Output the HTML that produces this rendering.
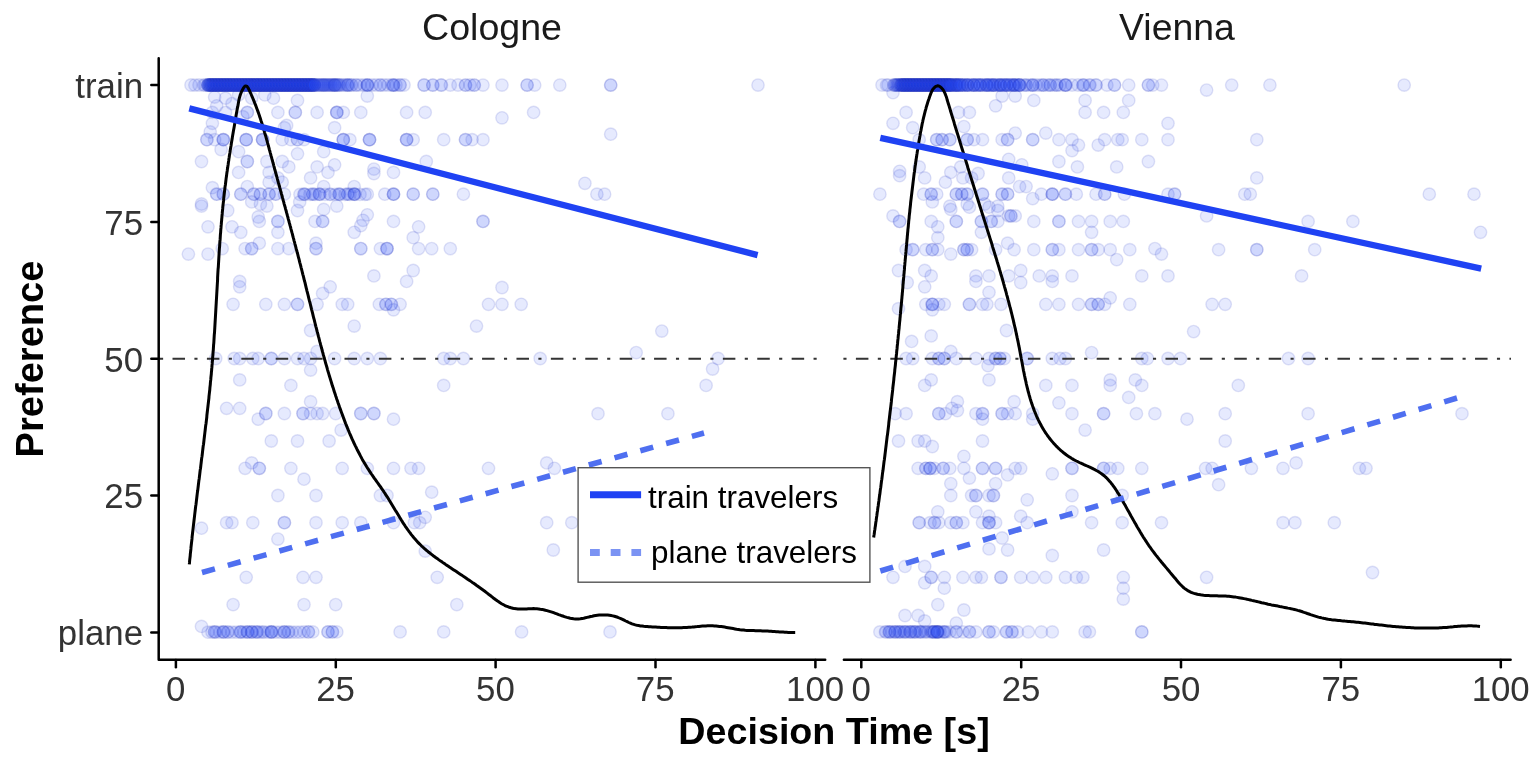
<!DOCTYPE html>
<html><head><meta charset="utf-8"><title>Preference vs Decision Time</title>
<style>
html,body{margin:0;padding:0;background:#fff;}
body{width:1535px;height:766px;overflow:hidden;}
svg{display:block;}
text{font-family:"Liberation Sans",Arial,Helvetica,sans-serif;}
</style></head><body>
<svg width="1535" height="766" viewBox="0 0 1535 766">
<rect width="1535" height="766" fill="#fff"/>

<text x="492" y="40.4" font-size="37.6" fill="#1a1a1a" text-anchor="middle">Cologne</text>
<text x="1177" y="40.4" font-size="37.4" fill="#1a1a1a" text-anchor="middle">Vienna</text>
<g fill="rgba(35,72,245,0.115)" stroke="rgba(45,60,190,0.14)" stroke-width="1.4">
<circle cx="194.9" cy="85.1" r="6.2"/>
<circle cx="203.6" cy="85.1" r="6.2"/>
<circle cx="323.7" cy="85.1" r="6.2"/>
<circle cx="334.6" cy="85.1" r="6.2"/>
<circle cx="334.6" cy="85.1" r="6.2"/>
<circle cx="347.7" cy="85.1" r="6.2"/>
<circle cx="347.7" cy="85.1" r="6.2"/>
<circle cx="356.4" cy="85.1" r="6.2"/>
<circle cx="367.3" cy="85.1" r="6.2"/>
<circle cx="367.3" cy="85.1" r="6.2"/>
<circle cx="367.3" cy="85.1" r="6.2"/>
<circle cx="380.4" cy="85.1" r="6.2"/>
<circle cx="393.5" cy="85.1" r="6.2"/>
<circle cx="393.5" cy="85.1" r="6.2"/>
<circle cx="393.5" cy="85.1" r="6.2"/>
<circle cx="400.1" cy="85.1" r="6.2"/>
<circle cx="424.1" cy="85.1" r="6.2"/>
<circle cx="432.8" cy="85.1" r="6.2"/>
<circle cx="432.8" cy="85.1" r="6.2"/>
<circle cx="441.5" cy="85.1" r="6.2"/>
<circle cx="450.3" cy="85.1" r="6.2"/>
<circle cx="465.5" cy="85.1" r="6.2"/>
<circle cx="465.5" cy="85.1" r="6.2"/>
<circle cx="474.3" cy="85.1" r="6.2"/>
<circle cx="474.3" cy="85.1" r="6.2"/>
<circle cx="483.0" cy="85.1" r="6.2"/>
<circle cx="214.6" cy="97.1" r="6.2"/>
<circle cx="225.5" cy="98.2" r="6.2"/>
<circle cx="238.6" cy="94.9" r="6.2"/>
<circle cx="251.7" cy="98.2" r="6.2"/>
<circle cx="264.8" cy="94.9" r="6.2"/>
<circle cx="273.5" cy="98.2" r="6.2"/>
<circle cx="297.5" cy="100.4" r="6.2"/>
<circle cx="367.3" cy="96.0" r="6.2"/>
<circle cx="232.0" cy="103.6" r="6.2"/>
<circle cx="216.7" cy="105.8" r="6.2"/>
<circle cx="212.4" cy="112.4" r="6.2"/>
<circle cx="225.5" cy="112.4" r="6.2"/>
<circle cx="247.3" cy="112.4" r="6.2"/>
<circle cx="247.3" cy="112.4" r="6.2"/>
<circle cx="277.9" cy="112.4" r="6.2"/>
<circle cx="295.3" cy="112.4" r="6.2"/>
<circle cx="295.3" cy="112.4" r="6.2"/>
<circle cx="317.1" cy="112.4" r="6.2"/>
<circle cx="336.8" cy="112.4" r="6.2"/>
<circle cx="336.8" cy="112.4" r="6.2"/>
<circle cx="336.8" cy="112.4" r="6.2"/>
<circle cx="343.3" cy="112.4" r="6.2"/>
<circle cx="360.8" cy="112.4" r="6.2"/>
<circle cx="406.6" cy="112.4" r="6.2"/>
<circle cx="425.2" cy="112.4" r="6.2"/>
<circle cx="212.4" cy="123.3" r="6.2"/>
<circle cx="242.9" cy="116.7" r="6.2"/>
<circle cx="286.6" cy="125.5" r="6.2"/>
<circle cx="284.4" cy="127.7" r="6.2"/>
<circle cx="334.6" cy="127.7" r="6.2"/>
<circle cx="210.2" cy="132.0" r="6.2"/>
<circle cx="206.9" cy="139.7" r="6.2"/>
<circle cx="206.9" cy="139.7" r="6.2"/>
<circle cx="223.3" cy="139.7" r="6.2"/>
<circle cx="223.3" cy="139.7" r="6.2"/>
<circle cx="223.3" cy="139.7" r="6.2"/>
<circle cx="214.6" cy="139.7" r="6.2"/>
<circle cx="246.2" cy="139.7" r="6.2"/>
<circle cx="246.2" cy="139.7" r="6.2"/>
<circle cx="246.2" cy="139.7" r="6.2"/>
<circle cx="262.6" cy="139.7" r="6.2"/>
<circle cx="262.6" cy="139.7" r="6.2"/>
<circle cx="262.6" cy="139.7" r="6.2"/>
<circle cx="282.2" cy="139.7" r="6.2"/>
<circle cx="290.9" cy="139.7" r="6.2"/>
<circle cx="297.5" cy="139.7" r="6.2"/>
<circle cx="297.5" cy="139.7" r="6.2"/>
<circle cx="304.0" cy="139.7" r="6.2"/>
<circle cx="343.3" cy="139.7" r="6.2"/>
<circle cx="343.3" cy="139.7" r="6.2"/>
<circle cx="343.3" cy="139.7" r="6.2"/>
<circle cx="349.9" cy="139.7" r="6.2"/>
<circle cx="369.5" cy="139.7" r="6.2"/>
<circle cx="369.5" cy="139.7" r="6.2"/>
<circle cx="369.5" cy="139.7" r="6.2"/>
<circle cx="406.6" cy="139.7" r="6.2"/>
<circle cx="406.6" cy="139.7" r="6.2"/>
<circle cx="406.6" cy="139.7" r="6.2"/>
<circle cx="413.2" cy="139.7" r="6.2"/>
<circle cx="443.7" cy="139.7" r="6.2"/>
<circle cx="465.5" cy="139.7" r="6.2"/>
<circle cx="465.5" cy="139.7" r="6.2"/>
<circle cx="472.1" cy="139.7" r="6.2"/>
<circle cx="483.0" cy="139.7" r="6.2"/>
<circle cx="238.6" cy="151.7" r="6.2"/>
<circle cx="297.5" cy="153.8" r="6.2"/>
<circle cx="323.7" cy="151.7" r="6.2"/>
<circle cx="221.1" cy="149.5" r="6.2"/>
<circle cx="201.5" cy="161.5" r="6.2"/>
<circle cx="247.3" cy="161.5" r="6.2"/>
<circle cx="247.3" cy="161.5" r="6.2"/>
<circle cx="266.9" cy="161.5" r="6.2"/>
<circle cx="282.2" cy="161.5" r="6.2"/>
<circle cx="288.8" cy="166.9" r="6.2"/>
<circle cx="317.1" cy="166.9" r="6.2"/>
<circle cx="334.6" cy="164.8" r="6.2"/>
<circle cx="373.9" cy="169.1" r="6.2"/>
<circle cx="426.3" cy="161.5" r="6.2"/>
<circle cx="238.6" cy="172.4" r="6.2"/>
<circle cx="269.1" cy="172.4" r="6.2"/>
<circle cx="310.6" cy="177.9" r="6.2"/>
<circle cx="328.0" cy="172.4" r="6.2"/>
<circle cx="373.9" cy="173.5" r="6.2"/>
<circle cx="393.5" cy="172.4" r="6.2"/>
<circle cx="277.9" cy="177.9" r="6.2"/>
<circle cx="269.1" cy="182.2" r="6.2"/>
<circle cx="282.2" cy="182.2" r="6.2"/>
<circle cx="212.4" cy="187.7" r="6.2"/>
<circle cx="247.3" cy="186.6" r="6.2"/>
<circle cx="323.7" cy="186.6" r="6.2"/>
<circle cx="354.2" cy="186.6" r="6.2"/>
<circle cx="216.7" cy="194.2" r="6.2"/>
<circle cx="216.7" cy="194.2" r="6.2"/>
<circle cx="223.3" cy="194.2" r="6.2"/>
<circle cx="223.3" cy="194.2" r="6.2"/>
<circle cx="240.8" cy="194.2" r="6.2"/>
<circle cx="240.8" cy="194.2" r="6.2"/>
<circle cx="253.8" cy="194.2" r="6.2"/>
<circle cx="253.8" cy="194.2" r="6.2"/>
<circle cx="260.4" cy="194.2" r="6.2"/>
<circle cx="260.4" cy="194.2" r="6.2"/>
<circle cx="269.1" cy="194.2" r="6.2"/>
<circle cx="269.1" cy="194.2" r="6.2"/>
<circle cx="275.7" cy="194.2" r="6.2"/>
<circle cx="275.7" cy="194.2" r="6.2"/>
<circle cx="284.4" cy="194.2" r="6.2"/>
<circle cx="304.0" cy="194.2" r="6.2"/>
<circle cx="304.0" cy="194.2" r="6.2"/>
<circle cx="312.8" cy="194.2" r="6.2"/>
<circle cx="312.8" cy="194.2" r="6.2"/>
<circle cx="319.3" cy="194.2" r="6.2"/>
<circle cx="319.3" cy="194.2" r="6.2"/>
<circle cx="330.2" cy="194.2" r="6.2"/>
<circle cx="339.0" cy="194.2" r="6.2"/>
<circle cx="339.0" cy="194.2" r="6.2"/>
<circle cx="347.7" cy="194.2" r="6.2"/>
<circle cx="347.7" cy="194.2" r="6.2"/>
<circle cx="354.2" cy="194.2" r="6.2"/>
<circle cx="354.2" cy="194.2" r="6.2"/>
<circle cx="354.2" cy="194.2" r="6.2"/>
<circle cx="367.3" cy="194.2" r="6.2"/>
<circle cx="384.8" cy="194.2" r="6.2"/>
<circle cx="393.5" cy="194.2" r="6.2"/>
<circle cx="393.5" cy="194.2" r="6.2"/>
<circle cx="393.5" cy="194.2" r="6.2"/>
<circle cx="413.2" cy="194.2" r="6.2"/>
<circle cx="413.2" cy="194.2" r="6.2"/>
<circle cx="432.8" cy="194.2" r="6.2"/>
<circle cx="432.8" cy="194.2" r="6.2"/>
<circle cx="463.4" cy="194.2" r="6.2"/>
<circle cx="201.5" cy="204.0" r="6.2"/>
<circle cx="251.7" cy="201.9" r="6.2"/>
<circle cx="260.4" cy="204.0" r="6.2"/>
<circle cx="299.7" cy="201.9" r="6.2"/>
<circle cx="208.0" cy="85.0" r="6.2"/>
<circle cx="208.0" cy="85.0" r="6.2"/>
<circle cx="208.0" cy="85.0" r="6.2"/>
<circle cx="208.0" cy="85.0" r="6.2"/>
<circle cx="209.5" cy="85.0" r="6.2"/>
<circle cx="209.5" cy="85.0" r="6.2"/>
<circle cx="209.5" cy="85.0" r="6.2"/>
<circle cx="209.5" cy="85.0" r="6.2"/>
<circle cx="211.0" cy="85.0" r="6.2"/>
<circle cx="211.0" cy="85.0" r="6.2"/>
<circle cx="211.0" cy="85.0" r="6.2"/>
<circle cx="211.0" cy="85.0" r="6.2"/>
<circle cx="212.5" cy="85.0" r="6.2"/>
<circle cx="212.5" cy="85.0" r="6.2"/>
<circle cx="212.5" cy="85.0" r="6.2"/>
<circle cx="212.5" cy="85.0" r="6.2"/>
<circle cx="214.0" cy="85.0" r="6.2"/>
<circle cx="214.0" cy="85.0" r="6.2"/>
<circle cx="214.0" cy="85.0" r="6.2"/>
<circle cx="214.0" cy="85.0" r="6.2"/>
<circle cx="215.5" cy="85.0" r="6.2"/>
<circle cx="215.5" cy="85.0" r="6.2"/>
<circle cx="215.5" cy="85.0" r="6.2"/>
<circle cx="215.5" cy="85.0" r="6.2"/>
<circle cx="217.0" cy="85.0" r="6.2"/>
<circle cx="217.0" cy="85.0" r="6.2"/>
<circle cx="217.0" cy="85.0" r="6.2"/>
<circle cx="217.0" cy="85.0" r="6.2"/>
<circle cx="218.5" cy="85.0" r="6.2"/>
<circle cx="218.5" cy="85.0" r="6.2"/>
<circle cx="218.5" cy="85.0" r="6.2"/>
<circle cx="218.5" cy="85.0" r="6.2"/>
<circle cx="220.0" cy="85.0" r="6.2"/>
<circle cx="220.0" cy="85.0" r="6.2"/>
<circle cx="220.0" cy="85.0" r="6.2"/>
<circle cx="220.0" cy="85.0" r="6.2"/>
<circle cx="221.5" cy="85.0" r="6.2"/>
<circle cx="221.5" cy="85.0" r="6.2"/>
<circle cx="221.5" cy="85.0" r="6.2"/>
<circle cx="221.5" cy="85.0" r="6.2"/>
<circle cx="223.0" cy="85.0" r="6.2"/>
<circle cx="223.0" cy="85.0" r="6.2"/>
<circle cx="223.0" cy="85.0" r="6.2"/>
<circle cx="223.0" cy="85.0" r="6.2"/>
<circle cx="224.5" cy="85.0" r="6.2"/>
<circle cx="224.5" cy="85.0" r="6.2"/>
<circle cx="224.5" cy="85.0" r="6.2"/>
<circle cx="224.5" cy="85.0" r="6.2"/>
<circle cx="226.0" cy="85.0" r="6.2"/>
<circle cx="226.0" cy="85.0" r="6.2"/>
<circle cx="226.0" cy="85.0" r="6.2"/>
<circle cx="226.0" cy="85.0" r="6.2"/>
<circle cx="227.5" cy="85.0" r="6.2"/>
<circle cx="227.5" cy="85.0" r="6.2"/>
<circle cx="227.5" cy="85.0" r="6.2"/>
<circle cx="227.5" cy="85.0" r="6.2"/>
<circle cx="229.0" cy="85.0" r="6.2"/>
<circle cx="229.0" cy="85.0" r="6.2"/>
<circle cx="229.0" cy="85.0" r="6.2"/>
<circle cx="229.0" cy="85.0" r="6.2"/>
<circle cx="230.5" cy="85.0" r="6.2"/>
<circle cx="230.5" cy="85.0" r="6.2"/>
<circle cx="230.5" cy="85.0" r="6.2"/>
<circle cx="230.5" cy="85.0" r="6.2"/>
<circle cx="232.0" cy="85.0" r="6.2"/>
<circle cx="232.0" cy="85.0" r="6.2"/>
<circle cx="232.0" cy="85.0" r="6.2"/>
<circle cx="232.0" cy="85.0" r="6.2"/>
<circle cx="233.5" cy="85.0" r="6.2"/>
<circle cx="233.5" cy="85.0" r="6.2"/>
<circle cx="233.5" cy="85.0" r="6.2"/>
<circle cx="233.5" cy="85.0" r="6.2"/>
<circle cx="235.0" cy="85.0" r="6.2"/>
<circle cx="235.0" cy="85.0" r="6.2"/>
<circle cx="235.0" cy="85.0" r="6.2"/>
<circle cx="235.0" cy="85.0" r="6.2"/>
<circle cx="236.5" cy="85.0" r="6.2"/>
<circle cx="236.5" cy="85.0" r="6.2"/>
<circle cx="236.5" cy="85.0" r="6.2"/>
<circle cx="236.5" cy="85.0" r="6.2"/>
<circle cx="238.0" cy="85.0" r="6.2"/>
<circle cx="238.0" cy="85.0" r="6.2"/>
<circle cx="238.0" cy="85.0" r="6.2"/>
<circle cx="238.0" cy="85.0" r="6.2"/>
<circle cx="239.5" cy="85.0" r="6.2"/>
<circle cx="239.5" cy="85.0" r="6.2"/>
<circle cx="239.5" cy="85.0" r="6.2"/>
<circle cx="239.5" cy="85.0" r="6.2"/>
<circle cx="241.0" cy="85.0" r="6.2"/>
<circle cx="241.0" cy="85.0" r="6.2"/>
<circle cx="241.0" cy="85.0" r="6.2"/>
<circle cx="241.0" cy="85.0" r="6.2"/>
<circle cx="242.5" cy="85.0" r="6.2"/>
<circle cx="242.5" cy="85.0" r="6.2"/>
<circle cx="242.5" cy="85.0" r="6.2"/>
<circle cx="242.5" cy="85.0" r="6.2"/>
<circle cx="244.0" cy="85.0" r="6.2"/>
<circle cx="244.0" cy="85.0" r="6.2"/>
<circle cx="244.0" cy="85.0" r="6.2"/>
<circle cx="244.0" cy="85.0" r="6.2"/>
<circle cx="245.5" cy="85.0" r="6.2"/>
<circle cx="245.5" cy="85.0" r="6.2"/>
<circle cx="245.5" cy="85.0" r="6.2"/>
<circle cx="245.5" cy="85.0" r="6.2"/>
<circle cx="247.0" cy="85.0" r="6.2"/>
<circle cx="247.0" cy="85.0" r="6.2"/>
<circle cx="247.0" cy="85.0" r="6.2"/>
<circle cx="247.0" cy="85.0" r="6.2"/>
<circle cx="248.5" cy="85.0" r="6.2"/>
<circle cx="248.5" cy="85.0" r="6.2"/>
<circle cx="248.5" cy="85.0" r="6.2"/>
<circle cx="248.5" cy="85.0" r="6.2"/>
<circle cx="250.0" cy="85.0" r="6.2"/>
<circle cx="250.0" cy="85.0" r="6.2"/>
<circle cx="250.0" cy="85.0" r="6.2"/>
<circle cx="250.0" cy="85.0" r="6.2"/>
<circle cx="251.5" cy="85.0" r="6.2"/>
<circle cx="251.5" cy="85.0" r="6.2"/>
<circle cx="251.5" cy="85.0" r="6.2"/>
<circle cx="251.5" cy="85.0" r="6.2"/>
<circle cx="253.0" cy="85.0" r="6.2"/>
<circle cx="253.0" cy="85.0" r="6.2"/>
<circle cx="253.0" cy="85.0" r="6.2"/>
<circle cx="253.0" cy="85.0" r="6.2"/>
<circle cx="254.5" cy="85.0" r="6.2"/>
<circle cx="254.5" cy="85.0" r="6.2"/>
<circle cx="254.5" cy="85.0" r="6.2"/>
<circle cx="254.5" cy="85.0" r="6.2"/>
<circle cx="256.0" cy="85.0" r="6.2"/>
<circle cx="256.0" cy="85.0" r="6.2"/>
<circle cx="256.0" cy="85.0" r="6.2"/>
<circle cx="256.0" cy="85.0" r="6.2"/>
<circle cx="257.5" cy="85.0" r="6.2"/>
<circle cx="257.5" cy="85.0" r="6.2"/>
<circle cx="257.5" cy="85.0" r="6.2"/>
<circle cx="257.5" cy="85.0" r="6.2"/>
<circle cx="259.0" cy="85.0" r="6.2"/>
<circle cx="259.0" cy="85.0" r="6.2"/>
<circle cx="259.0" cy="85.0" r="6.2"/>
<circle cx="259.0" cy="85.0" r="6.2"/>
<circle cx="260.5" cy="85.0" r="6.2"/>
<circle cx="260.5" cy="85.0" r="6.2"/>
<circle cx="260.5" cy="85.0" r="6.2"/>
<circle cx="260.5" cy="85.0" r="6.2"/>
<circle cx="262.0" cy="85.0" r="6.2"/>
<circle cx="262.0" cy="85.0" r="6.2"/>
<circle cx="262.0" cy="85.0" r="6.2"/>
<circle cx="262.0" cy="85.0" r="6.2"/>
<circle cx="263.5" cy="85.0" r="6.2"/>
<circle cx="263.5" cy="85.0" r="6.2"/>
<circle cx="263.5" cy="85.0" r="6.2"/>
<circle cx="263.5" cy="85.0" r="6.2"/>
<circle cx="265.0" cy="85.0" r="6.2"/>
<circle cx="265.0" cy="85.0" r="6.2"/>
<circle cx="265.0" cy="85.0" r="6.2"/>
<circle cx="265.0" cy="85.0" r="6.2"/>
<circle cx="266.5" cy="85.0" r="6.2"/>
<circle cx="266.5" cy="85.0" r="6.2"/>
<circle cx="266.5" cy="85.0" r="6.2"/>
<circle cx="266.5" cy="85.0" r="6.2"/>
<circle cx="268.0" cy="85.0" r="6.2"/>
<circle cx="268.0" cy="85.0" r="6.2"/>
<circle cx="268.0" cy="85.0" r="6.2"/>
<circle cx="268.0" cy="85.0" r="6.2"/>
<circle cx="269.5" cy="85.0" r="6.2"/>
<circle cx="269.5" cy="85.0" r="6.2"/>
<circle cx="269.5" cy="85.0" r="6.2"/>
<circle cx="269.5" cy="85.0" r="6.2"/>
<circle cx="271.0" cy="85.0" r="6.2"/>
<circle cx="271.0" cy="85.0" r="6.2"/>
<circle cx="271.0" cy="85.0" r="6.2"/>
<circle cx="271.0" cy="85.0" r="6.2"/>
<circle cx="272.5" cy="85.0" r="6.2"/>
<circle cx="272.5" cy="85.0" r="6.2"/>
<circle cx="272.5" cy="85.0" r="6.2"/>
<circle cx="272.5" cy="85.0" r="6.2"/>
<circle cx="274.0" cy="85.0" r="6.2"/>
<circle cx="274.0" cy="85.0" r="6.2"/>
<circle cx="274.0" cy="85.0" r="6.2"/>
<circle cx="274.0" cy="85.0" r="6.2"/>
<circle cx="275.5" cy="85.0" r="6.2"/>
<circle cx="275.5" cy="85.0" r="6.2"/>
<circle cx="275.5" cy="85.0" r="6.2"/>
<circle cx="275.5" cy="85.0" r="6.2"/>
<circle cx="277.0" cy="85.0" r="6.2"/>
<circle cx="277.0" cy="85.0" r="6.2"/>
<circle cx="277.0" cy="85.0" r="6.2"/>
<circle cx="277.0" cy="85.0" r="6.2"/>
<circle cx="278.5" cy="85.0" r="6.2"/>
<circle cx="278.5" cy="85.0" r="6.2"/>
<circle cx="278.5" cy="85.0" r="6.2"/>
<circle cx="278.5" cy="85.0" r="6.2"/>
<circle cx="280.0" cy="85.0" r="6.2"/>
<circle cx="280.0" cy="85.0" r="6.2"/>
<circle cx="280.0" cy="85.0" r="6.2"/>
<circle cx="280.0" cy="85.0" r="6.2"/>
<circle cx="281.5" cy="85.0" r="6.2"/>
<circle cx="281.5" cy="85.0" r="6.2"/>
<circle cx="281.5" cy="85.0" r="6.2"/>
<circle cx="281.5" cy="85.0" r="6.2"/>
<circle cx="283.0" cy="85.0" r="6.2"/>
<circle cx="283.0" cy="85.0" r="6.2"/>
<circle cx="283.0" cy="85.0" r="6.2"/>
<circle cx="283.0" cy="85.0" r="6.2"/>
<circle cx="284.5" cy="85.0" r="6.2"/>
<circle cx="284.5" cy="85.0" r="6.2"/>
<circle cx="284.5" cy="85.0" r="6.2"/>
<circle cx="284.5" cy="85.0" r="6.2"/>
<circle cx="286.0" cy="85.0" r="6.2"/>
<circle cx="286.0" cy="85.0" r="6.2"/>
<circle cx="286.0" cy="85.0" r="6.2"/>
<circle cx="286.0" cy="85.0" r="6.2"/>
<circle cx="287.5" cy="85.0" r="6.2"/>
<circle cx="287.5" cy="85.0" r="6.2"/>
<circle cx="287.5" cy="85.0" r="6.2"/>
<circle cx="287.5" cy="85.0" r="6.2"/>
<circle cx="289.0" cy="85.0" r="6.2"/>
<circle cx="289.0" cy="85.0" r="6.2"/>
<circle cx="289.0" cy="85.0" r="6.2"/>
<circle cx="289.0" cy="85.0" r="6.2"/>
<circle cx="290.5" cy="85.0" r="6.2"/>
<circle cx="290.5" cy="85.0" r="6.2"/>
<circle cx="290.5" cy="85.0" r="6.2"/>
<circle cx="290.5" cy="85.0" r="6.2"/>
<circle cx="292.0" cy="85.0" r="6.2"/>
<circle cx="292.0" cy="85.0" r="6.2"/>
<circle cx="292.0" cy="85.0" r="6.2"/>
<circle cx="292.0" cy="85.0" r="6.2"/>
<circle cx="293.5" cy="85.0" r="6.2"/>
<circle cx="293.5" cy="85.0" r="6.2"/>
<circle cx="293.5" cy="85.0" r="6.2"/>
<circle cx="293.5" cy="85.0" r="6.2"/>
<circle cx="295.0" cy="85.0" r="6.2"/>
<circle cx="295.0" cy="85.0" r="6.2"/>
<circle cx="295.0" cy="85.0" r="6.2"/>
<circle cx="295.0" cy="85.0" r="6.2"/>
<circle cx="296.5" cy="85.0" r="6.2"/>
<circle cx="296.5" cy="85.0" r="6.2"/>
<circle cx="296.5" cy="85.0" r="6.2"/>
<circle cx="296.5" cy="85.0" r="6.2"/>
<circle cx="298.0" cy="85.0" r="6.2"/>
<circle cx="298.0" cy="85.0" r="6.2"/>
<circle cx="298.0" cy="85.0" r="6.2"/>
<circle cx="298.0" cy="85.0" r="6.2"/>
<circle cx="299.5" cy="85.0" r="6.2"/>
<circle cx="299.5" cy="85.0" r="6.2"/>
<circle cx="299.5" cy="85.0" r="6.2"/>
<circle cx="299.5" cy="85.0" r="6.2"/>
<circle cx="301.0" cy="85.0" r="6.2"/>
<circle cx="301.0" cy="85.0" r="6.2"/>
<circle cx="301.0" cy="85.0" r="6.2"/>
<circle cx="301.0" cy="85.0" r="6.2"/>
<circle cx="302.5" cy="85.0" r="6.2"/>
<circle cx="302.5" cy="85.0" r="6.2"/>
<circle cx="302.5" cy="85.0" r="6.2"/>
<circle cx="302.5" cy="85.0" r="6.2"/>
<circle cx="304.0" cy="85.0" r="6.2"/>
<circle cx="304.0" cy="85.0" r="6.2"/>
<circle cx="304.0" cy="85.0" r="6.2"/>
<circle cx="304.0" cy="85.0" r="6.2"/>
<circle cx="305.5" cy="85.0" r="6.2"/>
<circle cx="305.5" cy="85.0" r="6.2"/>
<circle cx="305.5" cy="85.0" r="6.2"/>
<circle cx="305.5" cy="85.0" r="6.2"/>
<circle cx="307.0" cy="85.0" r="6.2"/>
<circle cx="307.0" cy="85.0" r="6.2"/>
<circle cx="307.0" cy="85.0" r="6.2"/>
<circle cx="307.0" cy="85.0" r="6.2"/>
<circle cx="308.5" cy="85.0" r="6.2"/>
<circle cx="308.5" cy="85.0" r="6.2"/>
<circle cx="308.5" cy="85.0" r="6.2"/>
<circle cx="308.5" cy="85.0" r="6.2"/>
<circle cx="310.0" cy="85.0" r="6.2"/>
<circle cx="310.0" cy="85.0" r="6.2"/>
<circle cx="310.0" cy="85.0" r="6.2"/>
<circle cx="310.0" cy="85.0" r="6.2"/>
<circle cx="311.5" cy="85.0" r="6.2"/>
<circle cx="311.5" cy="85.0" r="6.2"/>
<circle cx="311.5" cy="85.0" r="6.2"/>
<circle cx="311.5" cy="85.0" r="6.2"/>
<circle cx="313.0" cy="85.0" r="6.2"/>
<circle cx="313.0" cy="85.0" r="6.2"/>
<circle cx="313.0" cy="85.0" r="6.2"/>
<circle cx="313.0" cy="85.0" r="6.2"/>
<circle cx="314.5" cy="85.0" r="6.2"/>
<circle cx="314.5" cy="85.0" r="6.2"/>
<circle cx="314.5" cy="85.0" r="6.2"/>
<circle cx="314.5" cy="85.0" r="6.2"/>
<circle cx="317.0" cy="85.0" r="6.2"/>
<circle cx="317.0" cy="85.0" r="6.2"/>
<circle cx="319.0" cy="85.0" r="6.2"/>
<circle cx="319.0" cy="85.0" r="6.2"/>
<circle cx="321.0" cy="85.0" r="6.2"/>
<circle cx="321.0" cy="85.0" r="6.2"/>
<circle cx="323.0" cy="85.0" r="6.2"/>
<circle cx="323.0" cy="85.0" r="6.2"/>
<circle cx="325.0" cy="85.0" r="6.2"/>
<circle cx="325.0" cy="85.0" r="6.2"/>
<circle cx="327.0" cy="85.0" r="6.2"/>
<circle cx="327.0" cy="85.0" r="6.2"/>
<circle cx="329.0" cy="85.0" r="6.2"/>
<circle cx="329.0" cy="85.0" r="6.2"/>
<circle cx="331.0" cy="85.0" r="6.2"/>
<circle cx="331.0" cy="85.0" r="6.2"/>
<circle cx="333.0" cy="85.0" r="6.2"/>
<circle cx="333.0" cy="85.0" r="6.2"/>
<circle cx="335.0" cy="85.0" r="6.2"/>
<circle cx="335.0" cy="85.0" r="6.2"/>
<circle cx="337.0" cy="85.0" r="6.2"/>
<circle cx="337.0" cy="85.0" r="6.2"/>
<circle cx="339.0" cy="85.0" r="6.2"/>
<circle cx="339.0" cy="85.0" r="6.2"/>
<circle cx="341.0" cy="85.0" r="6.2"/>
<circle cx="343.0" cy="85.0" r="6.2"/>
<circle cx="345.0" cy="85.0" r="6.2"/>
<circle cx="347.0" cy="85.0" r="6.2"/>
<circle cx="349.0" cy="85.0" r="6.2"/>
<circle cx="351.0" cy="85.0" r="6.2"/>
<circle cx="191.0" cy="85.0" r="6.2"/>
<circle cx="199.0" cy="85.0" r="6.2"/>
<circle cx="205.0" cy="85.0" r="6.2"/>
<circle cx="352.0" cy="85.0" r="6.2"/>
<circle cx="356.0" cy="85.0" r="6.2"/>
<circle cx="360.0" cy="85.0" r="6.2"/>
<circle cx="364.0" cy="85.0" r="6.2"/>
<circle cx="368.0" cy="85.0" r="6.2"/>
<circle cx="372.0" cy="85.0" r="6.2"/>
<circle cx="376.0" cy="85.0" r="6.2"/>
<circle cx="380.0" cy="85.0" r="6.2"/>
<circle cx="384.0" cy="85.0" r="6.2"/>
<circle cx="388.0" cy="85.0" r="6.2"/>
<circle cx="392.0" cy="85.0" r="6.2"/>
<circle cx="396.0" cy="85.0" r="6.2"/>
<circle cx="400.0" cy="85.0" r="6.2"/>
<circle cx="404.0" cy="85.0" r="6.2"/>
<circle cx="424.0" cy="85.0" r="6.2"/>
<circle cx="441.0" cy="85.0" r="6.2"/>
<circle cx="458.0" cy="85.0" r="6.2"/>
<circle cx="470.0" cy="85.0" r="6.2"/>
<circle cx="300.0" cy="194.4" r="6.2"/>
<circle cx="305.0" cy="194.4" r="6.2"/>
<circle cx="310.0" cy="194.4" r="6.2"/>
<circle cx="315.0" cy="194.4" r="6.2"/>
<circle cx="320.0" cy="194.4" r="6.2"/>
<circle cx="325.0" cy="194.4" r="6.2"/>
<circle cx="330.0" cy="194.4" r="6.2"/>
<circle cx="335.0" cy="194.4" r="6.2"/>
<circle cx="340.0" cy="194.4" r="6.2"/>
<circle cx="345.0" cy="194.4" r="6.2"/>
<circle cx="350.0" cy="194.4" r="6.2"/>
<circle cx="355.0" cy="194.4" r="6.2"/>
<circle cx="360.0" cy="194.4" r="6.2"/>
<circle cx="365.0" cy="194.4" r="6.2"/>
<circle cx="502.0" cy="85.1" r="6.2"/>
<circle cx="527.1" cy="85.1" r="6.2"/>
<circle cx="527.1" cy="85.1" r="6.2"/>
<circle cx="534.7" cy="85.1" r="6.2"/>
<circle cx="559.8" cy="85.1" r="6.2"/>
<circle cx="610.7" cy="85.1" r="6.2"/>
<circle cx="610.7" cy="85.1" r="6.2"/>
<circle cx="758.0" cy="85.1" r="6.2"/>
<circle cx="502.0" cy="117.8" r="6.2"/>
<circle cx="533.6" cy="112.4" r="6.2"/>
<circle cx="610.7" cy="134.2" r="6.2"/>
<circle cx="584.9" cy="183.3" r="6.2"/>
<circle cx="596.9" cy="194.2" r="6.2"/>
<circle cx="604.6" cy="194.2" r="6.2"/>
<circle cx="201.5" cy="206.1" r="6.2"/>
<circle cx="227.7" cy="210.5" r="6.2"/>
<circle cx="266.9" cy="206.1" r="6.2"/>
<circle cx="297.5" cy="210.5" r="6.2"/>
<circle cx="323.7" cy="209.4" r="6.2"/>
<circle cx="336.8" cy="206.1" r="6.2"/>
<circle cx="208.0" cy="226.8" r="6.2"/>
<circle cx="232.0" cy="226.8" r="6.2"/>
<circle cx="240.8" cy="232.3" r="6.2"/>
<circle cx="258.2" cy="217.0" r="6.2"/>
<circle cx="259.3" cy="221.4" r="6.2"/>
<circle cx="277.9" cy="221.4" r="6.2"/>
<circle cx="277.9" cy="221.4" r="6.2"/>
<circle cx="277.9" cy="232.3" r="6.2"/>
<circle cx="315.0" cy="221.4" r="6.2"/>
<circle cx="322.6" cy="221.4" r="6.2"/>
<circle cx="322.6" cy="221.4" r="6.2"/>
<circle cx="354.2" cy="232.3" r="6.2"/>
<circle cx="360.8" cy="225.7" r="6.2"/>
<circle cx="363.0" cy="220.3" r="6.2"/>
<circle cx="367.3" cy="214.8" r="6.2"/>
<circle cx="393.5" cy="221.4" r="6.2"/>
<circle cx="418.6" cy="226.8" r="6.2"/>
<circle cx="413.2" cy="237.7" r="6.2"/>
<circle cx="483.0" cy="221.4" r="6.2"/>
<circle cx="483.0" cy="221.4" r="6.2"/>
<circle cx="188.4" cy="254.1" r="6.2"/>
<circle cx="208.0" cy="254.1" r="6.2"/>
<circle cx="222.2" cy="248.6" r="6.2"/>
<circle cx="245.1" cy="248.6" r="6.2"/>
<circle cx="251.7" cy="248.6" r="6.2"/>
<circle cx="251.7" cy="248.6" r="6.2"/>
<circle cx="259.3" cy="243.2" r="6.2"/>
<circle cx="277.9" cy="248.6" r="6.2"/>
<circle cx="288.8" cy="248.6" r="6.2"/>
<circle cx="316.0" cy="243.2" r="6.2"/>
<circle cx="316.0" cy="248.6" r="6.2"/>
<circle cx="316.0" cy="248.6" r="6.2"/>
<circle cx="360.8" cy="248.6" r="6.2"/>
<circle cx="360.8" cy="248.6" r="6.2"/>
<circle cx="380.4" cy="248.6" r="6.2"/>
<circle cx="387.0" cy="248.6" r="6.2"/>
<circle cx="387.0" cy="248.6" r="6.2"/>
<circle cx="387.0" cy="248.6" r="6.2"/>
<circle cx="418.6" cy="248.6" r="6.2"/>
<circle cx="431.7" cy="248.6" r="6.2"/>
<circle cx="450.3" cy="248.6" r="6.2"/>
<circle cx="373.9" cy="275.9" r="6.2"/>
<circle cx="413.2" cy="270.5" r="6.2"/>
<circle cx="406.6" cy="281.4" r="6.2"/>
<circle cx="239.7" cy="281.4" r="6.2"/>
<circle cx="239.7" cy="286.8" r="6.2"/>
<circle cx="330.2" cy="286.8" r="6.2"/>
<circle cx="322.6" cy="293.4" r="6.2"/>
<circle cx="233.1" cy="304.3" r="6.2"/>
<circle cx="265.8" cy="304.3" r="6.2"/>
<circle cx="284.4" cy="304.3" r="6.2"/>
<circle cx="297.5" cy="304.3" r="6.2"/>
<circle cx="297.5" cy="304.3" r="6.2"/>
<circle cx="317.1" cy="304.3" r="6.2"/>
<circle cx="342.2" cy="304.3" r="6.2"/>
<circle cx="347.7" cy="304.3" r="6.2"/>
<circle cx="379.3" cy="304.3" r="6.2"/>
<circle cx="385.9" cy="304.3" r="6.2"/>
<circle cx="385.9" cy="304.3" r="6.2"/>
<circle cx="391.3" cy="304.3" r="6.2"/>
<circle cx="391.3" cy="304.3" r="6.2"/>
<circle cx="400.1" cy="304.3" r="6.2"/>
<circle cx="393.5" cy="309.8" r="6.2"/>
<circle cx="488.5" cy="304.3" r="6.2"/>
<circle cx="354.2" cy="326.1" r="6.2"/>
<circle cx="310.6" cy="330.5" r="6.2"/>
<circle cx="476.5" cy="326.1" r="6.2"/>
<circle cx="502.0" cy="287.5" r="6.2"/>
<circle cx="502.0" cy="304.3" r="6.2"/>
<circle cx="521.2" cy="304.3" r="6.2"/>
<circle cx="661.8" cy="331.1" r="6.2"/>
<circle cx="215.7" cy="358.5" r="6.2"/>
<circle cx="234.2" cy="358.5" r="6.2"/>
<circle cx="239.7" cy="358.5" r="6.2"/>
<circle cx="252.8" cy="358.5" r="6.2"/>
<circle cx="258.2" cy="358.5" r="6.2"/>
<circle cx="271.3" cy="358.5" r="6.2"/>
<circle cx="271.3" cy="358.5" r="6.2"/>
<circle cx="284.4" cy="358.5" r="6.2"/>
<circle cx="297.5" cy="358.5" r="6.2"/>
<circle cx="304.0" cy="358.5" r="6.2"/>
<circle cx="310.6" cy="358.5" r="6.2"/>
<circle cx="317.1" cy="351.5" r="6.2"/>
<circle cx="310.6" cy="370.1" r="6.2"/>
<circle cx="334.6" cy="358.5" r="6.2"/>
<circle cx="354.2" cy="358.5" r="6.2"/>
<circle cx="367.3" cy="358.5" r="6.2"/>
<circle cx="380.4" cy="358.5" r="6.2"/>
<circle cx="443.7" cy="358.5" r="6.2"/>
<circle cx="450.3" cy="358.5" r="6.2"/>
<circle cx="463.4" cy="358.5" r="6.2"/>
<circle cx="239.7" cy="379.9" r="6.2"/>
<circle cx="290.9" cy="385.4" r="6.2"/>
<circle cx="443.7" cy="385.4" r="6.2"/>
<circle cx="226.6" cy="408.3" r="6.2"/>
<circle cx="239.7" cy="408.3" r="6.2"/>
<circle cx="258.2" cy="419.2" r="6.2"/>
<circle cx="265.8" cy="413.5" r="6.2"/>
<circle cx="265.8" cy="413.5" r="6.2"/>
<circle cx="284.4" cy="413.5" r="6.2"/>
<circle cx="303.0" cy="413.5" r="6.2"/>
<circle cx="303.0" cy="413.5" r="6.2"/>
<circle cx="310.6" cy="413.5" r="6.2"/>
<circle cx="317.1" cy="413.5" r="6.2"/>
<circle cx="322.6" cy="413.5" r="6.2"/>
<circle cx="335.7" cy="413.5" r="6.2"/>
<circle cx="310.6" cy="401.7" r="6.2"/>
<circle cx="360.8" cy="413.5" r="6.2"/>
<circle cx="360.8" cy="413.5" r="6.2"/>
<circle cx="373.9" cy="413.5" r="6.2"/>
<circle cx="373.9" cy="413.5" r="6.2"/>
<circle cx="393.5" cy="419.2" r="6.2"/>
<circle cx="341.1" cy="430.1" r="6.2"/>
<circle cx="271.3" cy="441.0" r="6.2"/>
<circle cx="297.5" cy="441.0" r="6.2"/>
<circle cx="329.1" cy="441.0" r="6.2"/>
<circle cx="245.1" cy="468.3" r="6.2"/>
<circle cx="251.7" cy="462.9" r="6.2"/>
<circle cx="259.3" cy="468.3" r="6.2"/>
<circle cx="259.3" cy="468.3" r="6.2"/>
<circle cx="290.9" cy="468.3" r="6.2"/>
<circle cx="342.2" cy="468.3" r="6.2"/>
<circle cx="367.3" cy="468.3" r="6.2"/>
<circle cx="393.5" cy="468.3" r="6.2"/>
<circle cx="411.0" cy="468.3" r="6.2"/>
<circle cx="418.6" cy="468.3" r="6.2"/>
<circle cx="488.5" cy="468.3" r="6.2"/>
<circle cx="304.0" cy="479.2" r="6.2"/>
<circle cx="540.2" cy="358.5" r="6.2"/>
<circle cx="636.2" cy="352.6" r="6.2"/>
<circle cx="718.1" cy="358.5" r="6.2"/>
<circle cx="712.6" cy="369.0" r="6.2"/>
<circle cx="706.1" cy="385.4" r="6.2"/>
<circle cx="598.0" cy="413.7" r="6.2"/>
<circle cx="667.9" cy="413.7" r="6.2"/>
<circle cx="546.7" cy="462.9" r="6.2"/>
<circle cx="554.4" cy="468.3" r="6.2"/>
<circle cx="277.9" cy="495.5" r="6.2"/>
<circle cx="316.0" cy="495.5" r="6.2"/>
<circle cx="380.4" cy="495.5" r="6.2"/>
<circle cx="387.0" cy="495.5" r="6.2"/>
<circle cx="431.7" cy="492.2" r="6.2"/>
<circle cx="201.5" cy="528.2" r="6.2"/>
<circle cx="226.6" cy="522.7" r="6.2"/>
<circle cx="232.0" cy="522.7" r="6.2"/>
<circle cx="252.8" cy="522.7" r="6.2"/>
<circle cx="284.4" cy="522.7" r="6.2"/>
<circle cx="284.4" cy="522.7" r="6.2"/>
<circle cx="316.0" cy="522.7" r="6.2"/>
<circle cx="342.2" cy="522.7" r="6.2"/>
<circle cx="360.8" cy="522.7" r="6.2"/>
<circle cx="393.5" cy="522.7" r="6.2"/>
<circle cx="414.3" cy="522.7" r="6.2"/>
<circle cx="419.7" cy="522.7" r="6.2"/>
<circle cx="425.2" cy="517.3" r="6.2"/>
<circle cx="277.9" cy="539.1" r="6.2"/>
<circle cx="425.2" cy="551.1" r="6.2"/>
<circle cx="246.2" cy="577.3" r="6.2"/>
<circle cx="303.0" cy="577.3" r="6.2"/>
<circle cx="316.0" cy="577.3" r="6.2"/>
<circle cx="437.2" cy="577.3" r="6.2"/>
<circle cx="233.1" cy="604.6" r="6.2"/>
<circle cx="304.0" cy="604.6" r="6.2"/>
<circle cx="335.7" cy="604.6" r="6.2"/>
<circle cx="456.8" cy="604.6" r="6.2"/>
<circle cx="201.5" cy="626.4" r="6.2"/>
<circle cx="214.6" cy="631.9" r="6.2"/>
<circle cx="214.6" cy="631.9" r="6.2"/>
<circle cx="223.3" cy="631.9" r="6.2"/>
<circle cx="223.3" cy="631.9" r="6.2"/>
<circle cx="227.7" cy="631.9" r="6.2"/>
<circle cx="240.8" cy="631.9" r="6.2"/>
<circle cx="240.8" cy="631.9" r="6.2"/>
<circle cx="247.3" cy="631.9" r="6.2"/>
<circle cx="247.3" cy="631.9" r="6.2"/>
<circle cx="251.7" cy="631.9" r="6.2"/>
<circle cx="251.7" cy="631.9" r="6.2"/>
<circle cx="257.1" cy="631.9" r="6.2"/>
<circle cx="257.1" cy="631.9" r="6.2"/>
<circle cx="262.6" cy="631.9" r="6.2"/>
<circle cx="271.3" cy="631.9" r="6.2"/>
<circle cx="271.3" cy="631.9" r="6.2"/>
<circle cx="271.3" cy="631.9" r="6.2"/>
<circle cx="284.4" cy="631.9" r="6.2"/>
<circle cx="284.4" cy="631.9" r="6.2"/>
<circle cx="288.8" cy="631.9" r="6.2"/>
<circle cx="304.0" cy="631.9" r="6.2"/>
<circle cx="308.4" cy="631.9" r="6.2"/>
<circle cx="308.4" cy="631.9" r="6.2"/>
<circle cx="312.8" cy="631.9" r="6.2"/>
<circle cx="328.0" cy="631.9" r="6.2"/>
<circle cx="328.0" cy="631.9" r="6.2"/>
<circle cx="332.4" cy="631.9" r="6.2"/>
<circle cx="332.4" cy="631.9" r="6.2"/>
<circle cx="336.8" cy="631.9" r="6.2"/>
<circle cx="400.1" cy="631.9" r="6.2"/>
<circle cx="443.7" cy="631.9" r="6.2"/>
<circle cx="208.0" cy="632.2" r="6.2"/>
<circle cx="212.0" cy="632.2" r="6.2"/>
<circle cx="216.0" cy="632.2" r="6.2"/>
<circle cx="220.0" cy="632.2" r="6.2"/>
<circle cx="224.0" cy="632.2" r="6.2"/>
<circle cx="228.0" cy="632.2" r="6.2"/>
<circle cx="232.0" cy="632.2" r="6.2"/>
<circle cx="236.0" cy="632.2" r="6.2"/>
<circle cx="240.0" cy="632.2" r="6.2"/>
<circle cx="244.0" cy="632.2" r="6.2"/>
<circle cx="248.0" cy="632.2" r="6.2"/>
<circle cx="252.0" cy="632.2" r="6.2"/>
<circle cx="256.0" cy="632.2" r="6.2"/>
<circle cx="260.0" cy="632.2" r="6.2"/>
<circle cx="264.0" cy="632.2" r="6.2"/>
<circle cx="268.0" cy="632.2" r="6.2"/>
<circle cx="272.0" cy="632.2" r="6.2"/>
<circle cx="276.0" cy="632.2" r="6.2"/>
<circle cx="280.0" cy="632.2" r="6.2"/>
<circle cx="284.0" cy="632.2" r="6.2"/>
<circle cx="288.0" cy="632.2" r="6.2"/>
<circle cx="292.0" cy="632.2" r="6.2"/>
<circle cx="296.0" cy="632.2" r="6.2"/>
<circle cx="300.0" cy="632.2" r="6.2"/>
<circle cx="546.7" cy="522.7" r="6.2"/>
<circle cx="571.8" cy="522.7" r="6.2"/>
<circle cx="553.3" cy="550.0" r="6.2"/>
<circle cx="521.6" cy="631.9" r="6.2"/>
<circle cx="610.0" cy="631.9" r="6.2"/>
<circle cx="886.5" cy="85.1" r="6.2"/>
<circle cx="956.3" cy="85.1" r="6.2"/>
<circle cx="956.3" cy="85.1" r="6.2"/>
<circle cx="956.3" cy="85.1" r="6.2"/>
<circle cx="962.9" cy="85.1" r="6.2"/>
<circle cx="962.9" cy="85.1" r="6.2"/>
<circle cx="967.2" cy="85.1" r="6.2"/>
<circle cx="967.2" cy="85.1" r="6.2"/>
<circle cx="967.2" cy="85.1" r="6.2"/>
<circle cx="973.8" cy="85.1" r="6.2"/>
<circle cx="973.8" cy="85.1" r="6.2"/>
<circle cx="973.8" cy="85.1" r="6.2"/>
<circle cx="980.3" cy="85.1" r="6.2"/>
<circle cx="980.3" cy="85.1" r="6.2"/>
<circle cx="986.9" cy="85.1" r="6.2"/>
<circle cx="986.9" cy="85.1" r="6.2"/>
<circle cx="986.9" cy="85.1" r="6.2"/>
<circle cx="993.4" cy="85.1" r="6.2"/>
<circle cx="993.4" cy="85.1" r="6.2"/>
<circle cx="993.4" cy="85.1" r="6.2"/>
<circle cx="1000.0" cy="85.1" r="6.2"/>
<circle cx="1000.0" cy="85.1" r="6.2"/>
<circle cx="1000.0" cy="85.1" r="6.2"/>
<circle cx="1006.5" cy="85.1" r="6.2"/>
<circle cx="1006.5" cy="85.1" r="6.2"/>
<circle cx="1014.1" cy="85.1" r="6.2"/>
<circle cx="1014.1" cy="85.1" r="6.2"/>
<circle cx="1014.1" cy="85.1" r="6.2"/>
<circle cx="1019.6" cy="85.1" r="6.2"/>
<circle cx="1019.6" cy="85.1" r="6.2"/>
<circle cx="1026.1" cy="85.1" r="6.2"/>
<circle cx="1026.1" cy="85.1" r="6.2"/>
<circle cx="1032.7" cy="85.1" r="6.2"/>
<circle cx="1032.7" cy="85.1" r="6.2"/>
<circle cx="1032.7" cy="85.1" r="6.2"/>
<circle cx="1039.2" cy="85.1" r="6.2"/>
<circle cx="1043.6" cy="85.1" r="6.2"/>
<circle cx="1043.6" cy="85.1" r="6.2"/>
<circle cx="1050.2" cy="85.1" r="6.2"/>
<circle cx="1050.2" cy="85.1" r="6.2"/>
<circle cx="1056.7" cy="85.1" r="6.2"/>
<circle cx="1056.7" cy="85.1" r="6.2"/>
<circle cx="1065.4" cy="85.1" r="6.2"/>
<circle cx="1065.4" cy="85.1" r="6.2"/>
<circle cx="1065.4" cy="85.1" r="6.2"/>
<circle cx="1082.9" cy="85.1" r="6.2"/>
<circle cx="1082.9" cy="85.1" r="6.2"/>
<circle cx="1089.4" cy="85.1" r="6.2"/>
<circle cx="1096.0" cy="85.1" r="6.2"/>
<circle cx="1106.9" cy="85.1" r="6.2"/>
<circle cx="1114.5" cy="85.1" r="6.2"/>
<circle cx="1114.5" cy="85.1" r="6.2"/>
<circle cx="1128.7" cy="85.1" r="6.2"/>
<circle cx="1148.4" cy="85.1" r="6.2"/>
<circle cx="1148.4" cy="85.1" r="6.2"/>
<circle cx="1152.7" cy="85.1" r="6.2"/>
<circle cx="1161.5" cy="85.1" r="6.2"/>
<circle cx="893.0" cy="92.7" r="6.2"/>
<circle cx="1002.1" cy="96.0" r="6.2"/>
<circle cx="1015.2" cy="96.0" r="6.2"/>
<circle cx="1033.8" cy="100.4" r="6.2"/>
<circle cx="1085.1" cy="100.4" r="6.2"/>
<circle cx="1128.7" cy="100.4" r="6.2"/>
<circle cx="995.6" cy="105.8" r="6.2"/>
<circle cx="906.1" cy="112.4" r="6.2"/>
<circle cx="958.5" cy="112.4" r="6.2"/>
<circle cx="969.4" cy="112.4" r="6.2"/>
<circle cx="1085.1" cy="112.4" r="6.2"/>
<circle cx="1103.6" cy="112.4" r="6.2"/>
<circle cx="1123.3" cy="112.4" r="6.2"/>
<circle cx="893.0" cy="123.3" r="6.2"/>
<circle cx="912.7" cy="127.7" r="6.2"/>
<circle cx="963.9" cy="126.6" r="6.2"/>
<circle cx="1168.0" cy="123.3" r="6.2"/>
<circle cx="1015.2" cy="133.1" r="6.2"/>
<circle cx="1045.8" cy="133.1" r="6.2"/>
<circle cx="919.2" cy="139.7" r="6.2"/>
<circle cx="936.7" cy="139.7" r="6.2"/>
<circle cx="936.7" cy="139.7" r="6.2"/>
<circle cx="942.1" cy="139.7" r="6.2"/>
<circle cx="942.1" cy="139.7" r="6.2"/>
<circle cx="949.8" cy="139.7" r="6.2"/>
<circle cx="949.8" cy="139.7" r="6.2"/>
<circle cx="967.2" cy="139.7" r="6.2"/>
<circle cx="967.2" cy="139.7" r="6.2"/>
<circle cx="973.8" cy="139.7" r="6.2"/>
<circle cx="982.5" cy="139.7" r="6.2"/>
<circle cx="1002.1" cy="139.7" r="6.2"/>
<circle cx="1007.6" cy="139.7" r="6.2"/>
<circle cx="1007.6" cy="139.7" r="6.2"/>
<circle cx="1032.7" cy="139.7" r="6.2"/>
<circle cx="1032.7" cy="139.7" r="6.2"/>
<circle cx="1058.9" cy="139.7" r="6.2"/>
<circle cx="1072.0" cy="139.7" r="6.2"/>
<circle cx="1078.5" cy="145.1" r="6.2"/>
<circle cx="1072.0" cy="150.6" r="6.2"/>
<circle cx="1098.2" cy="145.1" r="6.2"/>
<circle cx="1104.7" cy="139.7" r="6.2"/>
<circle cx="1117.8" cy="139.7" r="6.2"/>
<circle cx="1122.2" cy="139.7" r="6.2"/>
<circle cx="1141.8" cy="139.7" r="6.2"/>
<circle cx="1168.0" cy="139.7" r="6.2"/>
<circle cx="919.2" cy="166.9" r="6.2"/>
<circle cx="899.6" cy="171.3" r="6.2"/>
<circle cx="899.6" cy="175.7" r="6.2"/>
<circle cx="924.7" cy="177.9" r="6.2"/>
<circle cx="950.8" cy="172.4" r="6.2"/>
<circle cx="960.7" cy="166.9" r="6.2"/>
<circle cx="962.9" cy="177.9" r="6.2"/>
<circle cx="978.1" cy="173.5" r="6.2"/>
<circle cx="1008.7" cy="159.3" r="6.2"/>
<circle cx="1008.7" cy="177.9" r="6.2"/>
<circle cx="1021.8" cy="164.8" r="6.2"/>
<circle cx="1058.9" cy="161.5" r="6.2"/>
<circle cx="1077.4" cy="166.9" r="6.2"/>
<circle cx="1116.7" cy="166.9" r="6.2"/>
<circle cx="1148.4" cy="161.5" r="6.2"/>
<circle cx="945.4" cy="182.2" r="6.2"/>
<circle cx="971.6" cy="177.9" r="6.2"/>
<circle cx="879.9" cy="194.2" r="6.2"/>
<circle cx="923.6" cy="194.2" r="6.2"/>
<circle cx="931.2" cy="194.2" r="6.2"/>
<circle cx="931.2" cy="194.2" r="6.2"/>
<circle cx="936.7" cy="194.2" r="6.2"/>
<circle cx="956.3" cy="194.2" r="6.2"/>
<circle cx="956.3" cy="194.2" r="6.2"/>
<circle cx="961.8" cy="194.2" r="6.2"/>
<circle cx="961.8" cy="194.2" r="6.2"/>
<circle cx="967.2" cy="194.2" r="6.2"/>
<circle cx="967.2" cy="194.2" r="6.2"/>
<circle cx="982.5" cy="194.2" r="6.2"/>
<circle cx="982.5" cy="194.2" r="6.2"/>
<circle cx="1002.1" cy="194.2" r="6.2"/>
<circle cx="1002.1" cy="194.2" r="6.2"/>
<circle cx="1007.6" cy="194.2" r="6.2"/>
<circle cx="1007.6" cy="194.2" r="6.2"/>
<circle cx="1019.6" cy="186.6" r="6.2"/>
<circle cx="1026.1" cy="186.6" r="6.2"/>
<circle cx="1032.7" cy="198.6" r="6.2"/>
<circle cx="1041.4" cy="194.2" r="6.2"/>
<circle cx="1052.3" cy="194.2" r="6.2"/>
<circle cx="1052.3" cy="194.2" r="6.2"/>
<circle cx="1052.3" cy="194.2" r="6.2"/>
<circle cx="1065.4" cy="194.2" r="6.2"/>
<circle cx="1065.4" cy="194.2" r="6.2"/>
<circle cx="1076.3" cy="194.2" r="6.2"/>
<circle cx="1096.0" cy="194.2" r="6.2"/>
<circle cx="1104.7" cy="194.2" r="6.2"/>
<circle cx="1104.7" cy="194.2" r="6.2"/>
<circle cx="1124.4" cy="194.2" r="6.2"/>
<circle cx="1168.0" cy="194.2" r="6.2"/>
<circle cx="1174.6" cy="194.2" r="6.2"/>
<circle cx="1174.6" cy="194.2" r="6.2"/>
<circle cx="932.3" cy="201.9" r="6.2"/>
<circle cx="949.8" cy="206.2" r="6.2"/>
<circle cx="967.2" cy="204.0" r="6.2"/>
<circle cx="984.7" cy="204.0" r="6.2"/>
<circle cx="997.8" cy="206.2" r="6.2"/>
<circle cx="894.0" cy="85.0" r="6.2"/>
<circle cx="894.0" cy="85.0" r="6.2"/>
<circle cx="895.5" cy="85.0" r="6.2"/>
<circle cx="895.5" cy="85.0" r="6.2"/>
<circle cx="897.0" cy="85.0" r="6.2"/>
<circle cx="897.0" cy="85.0" r="6.2"/>
<circle cx="898.5" cy="85.0" r="6.2"/>
<circle cx="898.5" cy="85.0" r="6.2"/>
<circle cx="900.0" cy="85.0" r="6.2"/>
<circle cx="900.0" cy="85.0" r="6.2"/>
<circle cx="901.5" cy="85.0" r="6.2"/>
<circle cx="901.5" cy="85.0" r="6.2"/>
<circle cx="901.5" cy="85.0" r="6.2"/>
<circle cx="901.5" cy="85.0" r="6.2"/>
<circle cx="903.0" cy="85.0" r="6.2"/>
<circle cx="903.0" cy="85.0" r="6.2"/>
<circle cx="903.0" cy="85.0" r="6.2"/>
<circle cx="903.0" cy="85.0" r="6.2"/>
<circle cx="904.5" cy="85.0" r="6.2"/>
<circle cx="904.5" cy="85.0" r="6.2"/>
<circle cx="904.5" cy="85.0" r="6.2"/>
<circle cx="904.5" cy="85.0" r="6.2"/>
<circle cx="906.0" cy="85.0" r="6.2"/>
<circle cx="906.0" cy="85.0" r="6.2"/>
<circle cx="906.0" cy="85.0" r="6.2"/>
<circle cx="906.0" cy="85.0" r="6.2"/>
<circle cx="907.5" cy="85.0" r="6.2"/>
<circle cx="907.5" cy="85.0" r="6.2"/>
<circle cx="907.5" cy="85.0" r="6.2"/>
<circle cx="907.5" cy="85.0" r="6.2"/>
<circle cx="909.0" cy="85.0" r="6.2"/>
<circle cx="909.0" cy="85.0" r="6.2"/>
<circle cx="909.0" cy="85.0" r="6.2"/>
<circle cx="909.0" cy="85.0" r="6.2"/>
<circle cx="910.5" cy="85.0" r="6.2"/>
<circle cx="910.5" cy="85.0" r="6.2"/>
<circle cx="910.5" cy="85.0" r="6.2"/>
<circle cx="910.5" cy="85.0" r="6.2"/>
<circle cx="912.0" cy="85.0" r="6.2"/>
<circle cx="912.0" cy="85.0" r="6.2"/>
<circle cx="912.0" cy="85.0" r="6.2"/>
<circle cx="912.0" cy="85.0" r="6.2"/>
<circle cx="913.5" cy="85.0" r="6.2"/>
<circle cx="913.5" cy="85.0" r="6.2"/>
<circle cx="913.5" cy="85.0" r="6.2"/>
<circle cx="913.5" cy="85.0" r="6.2"/>
<circle cx="915.0" cy="85.0" r="6.2"/>
<circle cx="915.0" cy="85.0" r="6.2"/>
<circle cx="915.0" cy="85.0" r="6.2"/>
<circle cx="915.0" cy="85.0" r="6.2"/>
<circle cx="916.5" cy="85.0" r="6.2"/>
<circle cx="916.5" cy="85.0" r="6.2"/>
<circle cx="916.5" cy="85.0" r="6.2"/>
<circle cx="916.5" cy="85.0" r="6.2"/>
<circle cx="918.0" cy="85.0" r="6.2"/>
<circle cx="918.0" cy="85.0" r="6.2"/>
<circle cx="918.0" cy="85.0" r="6.2"/>
<circle cx="918.0" cy="85.0" r="6.2"/>
<circle cx="919.5" cy="85.0" r="6.2"/>
<circle cx="919.5" cy="85.0" r="6.2"/>
<circle cx="919.5" cy="85.0" r="6.2"/>
<circle cx="919.5" cy="85.0" r="6.2"/>
<circle cx="921.0" cy="85.0" r="6.2"/>
<circle cx="921.0" cy="85.0" r="6.2"/>
<circle cx="921.0" cy="85.0" r="6.2"/>
<circle cx="921.0" cy="85.0" r="6.2"/>
<circle cx="922.5" cy="85.0" r="6.2"/>
<circle cx="922.5" cy="85.0" r="6.2"/>
<circle cx="922.5" cy="85.0" r="6.2"/>
<circle cx="922.5" cy="85.0" r="6.2"/>
<circle cx="924.0" cy="85.0" r="6.2"/>
<circle cx="924.0" cy="85.0" r="6.2"/>
<circle cx="924.0" cy="85.0" r="6.2"/>
<circle cx="924.0" cy="85.0" r="6.2"/>
<circle cx="925.5" cy="85.0" r="6.2"/>
<circle cx="925.5" cy="85.0" r="6.2"/>
<circle cx="925.5" cy="85.0" r="6.2"/>
<circle cx="925.5" cy="85.0" r="6.2"/>
<circle cx="927.0" cy="85.0" r="6.2"/>
<circle cx="927.0" cy="85.0" r="6.2"/>
<circle cx="927.0" cy="85.0" r="6.2"/>
<circle cx="927.0" cy="85.0" r="6.2"/>
<circle cx="928.5" cy="85.0" r="6.2"/>
<circle cx="928.5" cy="85.0" r="6.2"/>
<circle cx="928.5" cy="85.0" r="6.2"/>
<circle cx="928.5" cy="85.0" r="6.2"/>
<circle cx="930.0" cy="85.0" r="6.2"/>
<circle cx="930.0" cy="85.0" r="6.2"/>
<circle cx="930.0" cy="85.0" r="6.2"/>
<circle cx="930.0" cy="85.0" r="6.2"/>
<circle cx="931.5" cy="85.0" r="6.2"/>
<circle cx="931.5" cy="85.0" r="6.2"/>
<circle cx="931.5" cy="85.0" r="6.2"/>
<circle cx="931.5" cy="85.0" r="6.2"/>
<circle cx="933.0" cy="85.0" r="6.2"/>
<circle cx="933.0" cy="85.0" r="6.2"/>
<circle cx="933.0" cy="85.0" r="6.2"/>
<circle cx="933.0" cy="85.0" r="6.2"/>
<circle cx="934.5" cy="85.0" r="6.2"/>
<circle cx="934.5" cy="85.0" r="6.2"/>
<circle cx="934.5" cy="85.0" r="6.2"/>
<circle cx="934.5" cy="85.0" r="6.2"/>
<circle cx="936.0" cy="85.0" r="6.2"/>
<circle cx="936.0" cy="85.0" r="6.2"/>
<circle cx="936.0" cy="85.0" r="6.2"/>
<circle cx="936.0" cy="85.0" r="6.2"/>
<circle cx="937.5" cy="85.0" r="6.2"/>
<circle cx="937.5" cy="85.0" r="6.2"/>
<circle cx="937.5" cy="85.0" r="6.2"/>
<circle cx="937.5" cy="85.0" r="6.2"/>
<circle cx="939.0" cy="85.0" r="6.2"/>
<circle cx="939.0" cy="85.0" r="6.2"/>
<circle cx="939.0" cy="85.0" r="6.2"/>
<circle cx="939.0" cy="85.0" r="6.2"/>
<circle cx="940.5" cy="85.0" r="6.2"/>
<circle cx="940.5" cy="85.0" r="6.2"/>
<circle cx="940.5" cy="85.0" r="6.2"/>
<circle cx="940.5" cy="85.0" r="6.2"/>
<circle cx="942.0" cy="85.0" r="6.2"/>
<circle cx="942.0" cy="85.0" r="6.2"/>
<circle cx="942.0" cy="85.0" r="6.2"/>
<circle cx="942.0" cy="85.0" r="6.2"/>
<circle cx="943.5" cy="85.0" r="6.2"/>
<circle cx="943.5" cy="85.0" r="6.2"/>
<circle cx="943.5" cy="85.0" r="6.2"/>
<circle cx="943.5" cy="85.0" r="6.2"/>
<circle cx="945.0" cy="85.0" r="6.2"/>
<circle cx="945.0" cy="85.0" r="6.2"/>
<circle cx="945.0" cy="85.0" r="6.2"/>
<circle cx="945.0" cy="85.0" r="6.2"/>
<circle cx="946.5" cy="85.0" r="6.2"/>
<circle cx="946.5" cy="85.0" r="6.2"/>
<circle cx="946.5" cy="85.0" r="6.2"/>
<circle cx="946.5" cy="85.0" r="6.2"/>
<circle cx="948.0" cy="85.0" r="6.2"/>
<circle cx="948.0" cy="85.0" r="6.2"/>
<circle cx="948.0" cy="85.0" r="6.2"/>
<circle cx="948.0" cy="85.0" r="6.2"/>
<circle cx="949.5" cy="85.0" r="6.2"/>
<circle cx="949.5" cy="85.0" r="6.2"/>
<circle cx="949.5" cy="85.0" r="6.2"/>
<circle cx="949.5" cy="85.0" r="6.2"/>
<circle cx="951.0" cy="85.0" r="6.2"/>
<circle cx="951.0" cy="85.0" r="6.2"/>
<circle cx="951.0" cy="85.0" r="6.2"/>
<circle cx="951.0" cy="85.0" r="6.2"/>
<circle cx="952.5" cy="85.0" r="6.2"/>
<circle cx="952.5" cy="85.0" r="6.2"/>
<circle cx="954.0" cy="85.0" r="6.2"/>
<circle cx="954.0" cy="85.0" r="6.2"/>
<circle cx="955.5" cy="85.0" r="6.2"/>
<circle cx="955.5" cy="85.0" r="6.2"/>
<circle cx="957.0" cy="85.0" r="6.2"/>
<circle cx="957.0" cy="85.0" r="6.2"/>
<circle cx="958.5" cy="85.0" r="6.2"/>
<circle cx="958.5" cy="85.0" r="6.2"/>
<circle cx="960.0" cy="85.0" r="6.2"/>
<circle cx="960.0" cy="85.0" r="6.2"/>
<circle cx="962.0" cy="85.0" r="6.2"/>
<circle cx="962.0" cy="85.0" r="6.2"/>
<circle cx="965.0" cy="85.0" r="6.2"/>
<circle cx="965.0" cy="85.0" r="6.2"/>
<circle cx="968.0" cy="85.0" r="6.2"/>
<circle cx="968.0" cy="85.0" r="6.2"/>
<circle cx="971.0" cy="85.0" r="6.2"/>
<circle cx="971.0" cy="85.0" r="6.2"/>
<circle cx="974.0" cy="85.0" r="6.2"/>
<circle cx="974.0" cy="85.0" r="6.2"/>
<circle cx="977.0" cy="85.0" r="6.2"/>
<circle cx="977.0" cy="85.0" r="6.2"/>
<circle cx="980.0" cy="85.0" r="6.2"/>
<circle cx="980.0" cy="85.0" r="6.2"/>
<circle cx="983.0" cy="85.0" r="6.2"/>
<circle cx="983.0" cy="85.0" r="6.2"/>
<circle cx="986.0" cy="85.0" r="6.2"/>
<circle cx="986.0" cy="85.0" r="6.2"/>
<circle cx="989.0" cy="85.0" r="6.2"/>
<circle cx="989.0" cy="85.0" r="6.2"/>
<circle cx="992.0" cy="85.0" r="6.2"/>
<circle cx="992.0" cy="85.0" r="6.2"/>
<circle cx="995.0" cy="85.0" r="6.2"/>
<circle cx="995.0" cy="85.0" r="6.2"/>
<circle cx="998.0" cy="85.0" r="6.2"/>
<circle cx="998.0" cy="85.0" r="6.2"/>
<circle cx="1001.0" cy="85.0" r="6.2"/>
<circle cx="1001.0" cy="85.0" r="6.2"/>
<circle cx="1004.0" cy="85.0" r="6.2"/>
<circle cx="1004.0" cy="85.0" r="6.2"/>
<circle cx="1007.0" cy="85.0" r="6.2"/>
<circle cx="1007.0" cy="85.0" r="6.2"/>
<circle cx="1010.0" cy="85.0" r="6.2"/>
<circle cx="1010.0" cy="85.0" r="6.2"/>
<circle cx="1013.0" cy="85.0" r="6.2"/>
<circle cx="1013.0" cy="85.0" r="6.2"/>
<circle cx="1016.0" cy="85.0" r="6.2"/>
<circle cx="1016.0" cy="85.0" r="6.2"/>
<circle cx="1019.0" cy="85.0" r="6.2"/>
<circle cx="1019.0" cy="85.0" r="6.2"/>
<circle cx="1024.0" cy="85.0" r="6.2"/>
<circle cx="1030.0" cy="85.0" r="6.2"/>
<circle cx="1036.0" cy="85.0" r="6.2"/>
<circle cx="1042.0" cy="85.0" r="6.2"/>
<circle cx="1048.0" cy="85.0" r="6.2"/>
<circle cx="1054.0" cy="85.0" r="6.2"/>
<circle cx="1060.0" cy="85.0" r="6.2"/>
<circle cx="1066.0" cy="85.0" r="6.2"/>
<circle cx="1072.0" cy="85.0" r="6.2"/>
<circle cx="1078.0" cy="85.0" r="6.2"/>
<circle cx="1084.0" cy="85.0" r="6.2"/>
<circle cx="1090.0" cy="85.0" r="6.2"/>
<circle cx="1096.0" cy="85.0" r="6.2"/>
<circle cx="882.0" cy="85.0" r="6.2"/>
<circle cx="888.0" cy="85.0" r="6.2"/>
<circle cx="960.0" cy="85.0" r="6.2"/>
<circle cx="978.0" cy="85.0" r="6.2"/>
<circle cx="990.0" cy="85.0" r="6.2"/>
<circle cx="1004.0" cy="85.0" r="6.2"/>
<circle cx="1010.0" cy="85.0" r="6.2"/>
<circle cx="1020.0" cy="85.0" r="6.2"/>
<circle cx="1206.6" cy="90.1" r="6.2"/>
<circle cx="1231.7" cy="85.1" r="6.2"/>
<circle cx="1269.9" cy="85.1" r="6.2"/>
<circle cx="1404.2" cy="85.1" r="6.2"/>
<circle cx="1256.8" cy="139.7" r="6.2"/>
<circle cx="1256.8" cy="177.9" r="6.2"/>
<circle cx="1244.8" cy="194.2" r="6.2"/>
<circle cx="1250.3" cy="194.2" r="6.2"/>
<circle cx="1429.3" cy="194.2" r="6.2"/>
<circle cx="1474.0" cy="194.2" r="6.2"/>
<circle cx="950.8" cy="209.4" r="6.2"/>
<circle cx="969.4" cy="207.2" r="6.2"/>
<circle cx="989.0" cy="207.2" r="6.2"/>
<circle cx="997.8" cy="210.5" r="6.2"/>
<circle cx="893.0" cy="215.9" r="6.2"/>
<circle cx="899.6" cy="221.4" r="6.2"/>
<circle cx="899.6" cy="221.4" r="6.2"/>
<circle cx="931.2" cy="221.4" r="6.2"/>
<circle cx="937.8" cy="226.8" r="6.2"/>
<circle cx="956.3" cy="221.4" r="6.2"/>
<circle cx="956.3" cy="221.4" r="6.2"/>
<circle cx="981.4" cy="221.4" r="6.2"/>
<circle cx="981.4" cy="221.4" r="6.2"/>
<circle cx="991.2" cy="221.4" r="6.2"/>
<circle cx="991.2" cy="221.4" r="6.2"/>
<circle cx="997.8" cy="221.4" r="6.2"/>
<circle cx="1008.7" cy="215.9" r="6.2"/>
<circle cx="1010.9" cy="215.9" r="6.2"/>
<circle cx="1010.9" cy="215.9" r="6.2"/>
<circle cx="1015.2" cy="215.9" r="6.2"/>
<circle cx="1033.8" cy="221.4" r="6.2"/>
<circle cx="1058.9" cy="221.4" r="6.2"/>
<circle cx="1058.9" cy="221.4" r="6.2"/>
<circle cx="1078.5" cy="221.4" r="6.2"/>
<circle cx="1091.6" cy="221.4" r="6.2"/>
<circle cx="1091.6" cy="232.3" r="6.2"/>
<circle cx="1110.2" cy="221.4" r="6.2"/>
<circle cx="1123.3" cy="221.4" r="6.2"/>
<circle cx="937.8" cy="237.7" r="6.2"/>
<circle cx="981.4" cy="232.3" r="6.2"/>
<circle cx="906.1" cy="249.7" r="6.2"/>
<circle cx="912.7" cy="249.7" r="6.2"/>
<circle cx="912.7" cy="249.7" r="6.2"/>
<circle cx="925.8" cy="249.7" r="6.2"/>
<circle cx="932.3" cy="249.7" r="6.2"/>
<circle cx="932.3" cy="249.7" r="6.2"/>
<circle cx="937.8" cy="249.7" r="6.2"/>
<circle cx="950.8" cy="254.1" r="6.2"/>
<circle cx="963.9" cy="249.7" r="6.2"/>
<circle cx="963.9" cy="249.7" r="6.2"/>
<circle cx="967.2" cy="249.7" r="6.2"/>
<circle cx="967.2" cy="249.7" r="6.2"/>
<circle cx="971.6" cy="249.7" r="6.2"/>
<circle cx="995.6" cy="249.7" r="6.2"/>
<circle cx="1007.6" cy="243.2" r="6.2"/>
<circle cx="1014.1" cy="249.7" r="6.2"/>
<circle cx="1033.8" cy="249.7" r="6.2"/>
<circle cx="1052.3" cy="249.7" r="6.2"/>
<circle cx="1052.3" cy="249.7" r="6.2"/>
<circle cx="1058.9" cy="249.7" r="6.2"/>
<circle cx="1078.5" cy="249.7" r="6.2"/>
<circle cx="1091.6" cy="249.7" r="6.2"/>
<circle cx="1091.6" cy="249.7" r="6.2"/>
<circle cx="1098.2" cy="249.7" r="6.2"/>
<circle cx="1110.2" cy="249.7" r="6.2"/>
<circle cx="1116.7" cy="259.6" r="6.2"/>
<circle cx="1129.8" cy="249.7" r="6.2"/>
<circle cx="1154.9" cy="248.6" r="6.2"/>
<circle cx="1161.5" cy="254.1" r="6.2"/>
<circle cx="898.5" cy="270.5" r="6.2"/>
<circle cx="907.2" cy="282.5" r="6.2"/>
<circle cx="924.7" cy="270.5" r="6.2"/>
<circle cx="931.2" cy="275.9" r="6.2"/>
<circle cx="924.7" cy="286.8" r="6.2"/>
<circle cx="975.9" cy="275.9" r="6.2"/>
<circle cx="975.9" cy="281.4" r="6.2"/>
<circle cx="989.0" cy="275.9" r="6.2"/>
<circle cx="1008.7" cy="275.9" r="6.2"/>
<circle cx="1020.7" cy="270.5" r="6.2"/>
<circle cx="1020.7" cy="282.5" r="6.2"/>
<circle cx="1039.2" cy="275.9" r="6.2"/>
<circle cx="1052.3" cy="275.9" r="6.2"/>
<circle cx="1052.3" cy="281.4" r="6.2"/>
<circle cx="1072.0" cy="275.9" r="6.2"/>
<circle cx="1141.8" cy="275.9" r="6.2"/>
<circle cx="1168.0" cy="275.9" r="6.2"/>
<circle cx="989.0" cy="292.3" r="6.2"/>
<circle cx="898.5" cy="308.7" r="6.2"/>
<circle cx="925.8" cy="304.3" r="6.2"/>
<circle cx="932.3" cy="304.3" r="6.2"/>
<circle cx="932.3" cy="304.3" r="6.2"/>
<circle cx="932.3" cy="304.3" r="6.2"/>
<circle cx="938.8" cy="304.3" r="6.2"/>
<circle cx="944.3" cy="304.3" r="6.2"/>
<circle cx="932.3" cy="309.8" r="6.2"/>
<circle cx="969.4" cy="304.3" r="6.2"/>
<circle cx="969.4" cy="304.3" r="6.2"/>
<circle cx="982.5" cy="304.3" r="6.2"/>
<circle cx="986.9" cy="304.3" r="6.2"/>
<circle cx="1001.0" cy="304.3" r="6.2"/>
<circle cx="1045.8" cy="304.3" r="6.2"/>
<circle cx="1058.9" cy="304.3" r="6.2"/>
<circle cx="1078.5" cy="304.3" r="6.2"/>
<circle cx="1091.6" cy="304.3" r="6.2"/>
<circle cx="1091.6" cy="304.3" r="6.2"/>
<circle cx="1098.2" cy="304.3" r="6.2"/>
<circle cx="1098.2" cy="304.3" r="6.2"/>
<circle cx="1104.7" cy="304.3" r="6.2"/>
<circle cx="1110.2" cy="297.8" r="6.2"/>
<circle cx="1129.8" cy="304.3" r="6.2"/>
<circle cx="1006.5" cy="330.5" r="6.2"/>
<circle cx="931.2" cy="335.9" r="6.2"/>
<circle cx="911.6" cy="341.4" r="6.2"/>
<circle cx="1206.6" cy="215.9" r="6.2"/>
<circle cx="1308.1" cy="221.4" r="6.2"/>
<circle cx="1352.9" cy="221.4" r="6.2"/>
<circle cx="1480.5" cy="232.3" r="6.2"/>
<circle cx="1218.6" cy="249.7" r="6.2"/>
<circle cx="1256.8" cy="249.7" r="6.2"/>
<circle cx="1256.8" cy="249.7" r="6.2"/>
<circle cx="1314.7" cy="249.7" r="6.2"/>
<circle cx="1301.6" cy="275.9" r="6.2"/>
<circle cx="1212.1" cy="304.3" r="6.2"/>
<circle cx="1225.2" cy="304.3" r="6.2"/>
<circle cx="1193.6" cy="331.6" r="6.2"/>
<circle cx="906.1" cy="358.5" r="6.2"/>
<circle cx="912.7" cy="358.5" r="6.2"/>
<circle cx="932.3" cy="358.5" r="6.2"/>
<circle cx="938.8" cy="358.5" r="6.2"/>
<circle cx="938.8" cy="358.5" r="6.2"/>
<circle cx="944.3" cy="358.5" r="6.2"/>
<circle cx="944.3" cy="358.5" r="6.2"/>
<circle cx="956.3" cy="358.5" r="6.2"/>
<circle cx="975.9" cy="358.5" r="6.2"/>
<circle cx="989.0" cy="358.5" r="6.2"/>
<circle cx="995.6" cy="358.5" r="6.2"/>
<circle cx="995.6" cy="358.5" r="6.2"/>
<circle cx="1000.0" cy="358.5" r="6.2"/>
<circle cx="1000.0" cy="358.5" r="6.2"/>
<circle cx="1004.3" cy="358.5" r="6.2"/>
<circle cx="1027.2" cy="358.5" r="6.2"/>
<circle cx="1027.2" cy="358.5" r="6.2"/>
<circle cx="1052.3" cy="358.5" r="6.2"/>
<circle cx="1060.0" cy="358.5" r="6.2"/>
<circle cx="1065.4" cy="358.5" r="6.2"/>
<circle cx="1141.8" cy="358.5" r="6.2"/>
<circle cx="1147.3" cy="358.5" r="6.2"/>
<circle cx="1168.0" cy="358.5" r="6.2"/>
<circle cx="1091.6" cy="352.6" r="6.2"/>
<circle cx="950.8" cy="351.5" r="6.2"/>
<circle cx="988.0" cy="365.7" r="6.2"/>
<circle cx="931.2" cy="379.9" r="6.2"/>
<circle cx="924.7" cy="385.4" r="6.2"/>
<circle cx="989.0" cy="379.9" r="6.2"/>
<circle cx="1045.8" cy="385.4" r="6.2"/>
<circle cx="1072.0" cy="385.4" r="6.2"/>
<circle cx="1110.2" cy="379.9" r="6.2"/>
<circle cx="1110.2" cy="385.4" r="6.2"/>
<circle cx="1135.3" cy="379.9" r="6.2"/>
<circle cx="1141.8" cy="385.4" r="6.2"/>
<circle cx="1128.7" cy="397.4" r="6.2"/>
<circle cx="1058.9" cy="402.8" r="6.2"/>
<circle cx="1014.1" cy="401.7" r="6.2"/>
<circle cx="895.2" cy="413.7" r="6.2"/>
<circle cx="906.1" cy="413.7" r="6.2"/>
<circle cx="938.8" cy="413.7" r="6.2"/>
<circle cx="938.8" cy="413.7" r="6.2"/>
<circle cx="945.4" cy="413.7" r="6.2"/>
<circle cx="951.9" cy="408.3" r="6.2"/>
<circle cx="957.4" cy="401.7" r="6.2"/>
<circle cx="957.4" cy="410.5" r="6.2"/>
<circle cx="975.9" cy="413.7" r="6.2"/>
<circle cx="982.5" cy="413.7" r="6.2"/>
<circle cx="982.5" cy="413.7" r="6.2"/>
<circle cx="982.5" cy="419.2" r="6.2"/>
<circle cx="1002.1" cy="413.7" r="6.2"/>
<circle cx="1002.1" cy="413.7" r="6.2"/>
<circle cx="1007.6" cy="413.7" r="6.2"/>
<circle cx="1015.2" cy="413.7" r="6.2"/>
<circle cx="1032.7" cy="413.7" r="6.2"/>
<circle cx="1032.7" cy="419.2" r="6.2"/>
<circle cx="1072.0" cy="413.7" r="6.2"/>
<circle cx="1103.6" cy="413.7" r="6.2"/>
<circle cx="1103.6" cy="413.7" r="6.2"/>
<circle cx="1136.4" cy="413.7" r="6.2"/>
<circle cx="1154.9" cy="413.7" r="6.2"/>
<circle cx="1085.1" cy="430.1" r="6.2"/>
<circle cx="898.5" cy="441.0" r="6.2"/>
<circle cx="918.1" cy="441.0" r="6.2"/>
<circle cx="924.7" cy="441.0" r="6.2"/>
<circle cx="932.3" cy="446.5" r="6.2"/>
<circle cx="982.5" cy="441.0" r="6.2"/>
<circle cx="918.1" cy="468.3" r="6.2"/>
<circle cx="925.8" cy="468.3" r="6.2"/>
<circle cx="925.8" cy="468.3" r="6.2"/>
<circle cx="930.1" cy="468.3" r="6.2"/>
<circle cx="930.1" cy="468.3" r="6.2"/>
<circle cx="930.1" cy="468.3" r="6.2"/>
<circle cx="934.5" cy="468.3" r="6.2"/>
<circle cx="943.2" cy="468.3" r="6.2"/>
<circle cx="943.2" cy="468.3" r="6.2"/>
<circle cx="949.8" cy="468.3" r="6.2"/>
<circle cx="963.9" cy="468.3" r="6.2"/>
<circle cx="963.9" cy="456.3" r="6.2"/>
<circle cx="982.5" cy="468.3" r="6.2"/>
<circle cx="982.5" cy="468.3" r="6.2"/>
<circle cx="995.6" cy="468.3" r="6.2"/>
<circle cx="995.6" cy="468.3" r="6.2"/>
<circle cx="1015.2" cy="468.3" r="6.2"/>
<circle cx="1020.7" cy="468.3" r="6.2"/>
<circle cx="1007.6" cy="474.9" r="6.2"/>
<circle cx="1052.3" cy="473.8" r="6.2"/>
<circle cx="1072.0" cy="468.3" r="6.2"/>
<circle cx="1072.0" cy="468.3" r="6.2"/>
<circle cx="1103.6" cy="468.3" r="6.2"/>
<circle cx="1103.6" cy="468.3" r="6.2"/>
<circle cx="1110.2" cy="468.3" r="6.2"/>
<circle cx="1117.8" cy="468.3" r="6.2"/>
<circle cx="1141.8" cy="468.3" r="6.2"/>
<circle cx="969.4" cy="478.1" r="6.2"/>
<circle cx="950.8" cy="483.6" r="6.2"/>
<circle cx="995.6" cy="483.6" r="6.2"/>
<circle cx="1180.5" cy="358.5" r="6.2"/>
<circle cx="1288.5" cy="358.5" r="6.2"/>
<circle cx="1308.1" cy="358.5" r="6.2"/>
<circle cx="1238.3" cy="385.4" r="6.2"/>
<circle cx="1187.0" cy="419.2" r="6.2"/>
<circle cx="1225.2" cy="413.7" r="6.2"/>
<circle cx="1308.1" cy="413.7" r="6.2"/>
<circle cx="1462.0" cy="413.7" r="6.2"/>
<circle cx="1225.2" cy="441.0" r="6.2"/>
<circle cx="1205.6" cy="468.3" r="6.2"/>
<circle cx="1212.1" cy="468.3" r="6.2"/>
<circle cx="1251.4" cy="468.3" r="6.2"/>
<circle cx="1283.0" cy="468.3" r="6.2"/>
<circle cx="1296.1" cy="462.9" r="6.2"/>
<circle cx="1359.4" cy="468.3" r="6.2"/>
<circle cx="1366.0" cy="468.3" r="6.2"/>
<circle cx="1218.6" cy="484.7" r="6.2"/>
<circle cx="950.8" cy="495.5" r="6.2"/>
<circle cx="971.6" cy="495.5" r="6.2"/>
<circle cx="975.9" cy="495.5" r="6.2"/>
<circle cx="975.9" cy="495.5" r="6.2"/>
<circle cx="989.0" cy="495.5" r="6.2"/>
<circle cx="993.4" cy="495.5" r="6.2"/>
<circle cx="993.4" cy="495.5" r="6.2"/>
<circle cx="1027.2" cy="499.8" r="6.2"/>
<circle cx="1072.0" cy="495.5" r="6.2"/>
<circle cx="1122.2" cy="495.5" r="6.2"/>
<circle cx="937.8" cy="511.8" r="6.2"/>
<circle cx="975.9" cy="511.8" r="6.2"/>
<circle cx="989.0" cy="516.2" r="6.2"/>
<circle cx="1020.7" cy="516.2" r="6.2"/>
<circle cx="1072.0" cy="511.8" r="6.2"/>
<circle cx="919.2" cy="522.7" r="6.2"/>
<circle cx="919.2" cy="522.7" r="6.2"/>
<circle cx="930.1" cy="522.7" r="6.2"/>
<circle cx="934.5" cy="522.7" r="6.2"/>
<circle cx="934.5" cy="522.7" r="6.2"/>
<circle cx="938.8" cy="522.7" r="6.2"/>
<circle cx="950.8" cy="522.7" r="6.2"/>
<circle cx="956.3" cy="522.7" r="6.2"/>
<circle cx="956.3" cy="522.7" r="6.2"/>
<circle cx="962.9" cy="522.7" r="6.2"/>
<circle cx="982.5" cy="522.7" r="6.2"/>
<circle cx="989.0" cy="522.7" r="6.2"/>
<circle cx="989.0" cy="522.7" r="6.2"/>
<circle cx="989.0" cy="522.7" r="6.2"/>
<circle cx="995.6" cy="522.7" r="6.2"/>
<circle cx="1027.2" cy="522.7" r="6.2"/>
<circle cx="1091.6" cy="522.7" r="6.2"/>
<circle cx="1122.2" cy="522.7" r="6.2"/>
<circle cx="1161.5" cy="522.7" r="6.2"/>
<circle cx="1002.1" cy="538.0" r="6.2"/>
<circle cx="989.0" cy="548.9" r="6.2"/>
<circle cx="1007.6" cy="550.0" r="6.2"/>
<circle cx="1052.3" cy="555.5" r="6.2"/>
<circle cx="1103.6" cy="550.0" r="6.2"/>
<circle cx="905.0" cy="566.4" r="6.2"/>
<circle cx="924.7" cy="566.4" r="6.2"/>
<circle cx="893.0" cy="577.3" r="6.2"/>
<circle cx="931.2" cy="577.3" r="6.2"/>
<circle cx="931.2" cy="577.3" r="6.2"/>
<circle cx="944.3" cy="577.3" r="6.2"/>
<circle cx="924.7" cy="582.8" r="6.2"/>
<circle cx="944.3" cy="588.2" r="6.2"/>
<circle cx="962.9" cy="577.3" r="6.2"/>
<circle cx="975.9" cy="577.3" r="6.2"/>
<circle cx="981.4" cy="577.3" r="6.2"/>
<circle cx="1001.0" cy="577.3" r="6.2"/>
<circle cx="1001.0" cy="577.3" r="6.2"/>
<circle cx="1020.7" cy="577.3" r="6.2"/>
<circle cx="1032.7" cy="577.3" r="6.2"/>
<circle cx="1045.8" cy="577.3" r="6.2"/>
<circle cx="1065.4" cy="577.3" r="6.2"/>
<circle cx="1076.3" cy="577.3" r="6.2"/>
<circle cx="1082.9" cy="577.3" r="6.2"/>
<circle cx="1123.3" cy="577.3" r="6.2"/>
<circle cx="1123.3" cy="588.2" r="6.2"/>
<circle cx="1123.3" cy="599.1" r="6.2"/>
<circle cx="937.8" cy="604.6" r="6.2"/>
<circle cx="963.9" cy="610.0" r="6.2"/>
<circle cx="905.0" cy="615.5" r="6.2"/>
<circle cx="918.1" cy="615.5" r="6.2"/>
<circle cx="924.7" cy="620.9" r="6.2"/>
<circle cx="956.3" cy="623.1" r="6.2"/>
<circle cx="879.9" cy="631.9" r="6.2"/>
<circle cx="885.4" cy="631.9" r="6.2"/>
<circle cx="889.7" cy="631.9" r="6.2"/>
<circle cx="889.7" cy="631.9" r="6.2"/>
<circle cx="895.2" cy="631.9" r="6.2"/>
<circle cx="895.2" cy="631.9" r="6.2"/>
<circle cx="899.6" cy="631.9" r="6.2"/>
<circle cx="899.6" cy="631.9" r="6.2"/>
<circle cx="905.0" cy="631.9" r="6.2"/>
<circle cx="905.0" cy="631.9" r="6.2"/>
<circle cx="910.5" cy="631.9" r="6.2"/>
<circle cx="910.5" cy="631.9" r="6.2"/>
<circle cx="914.8" cy="631.9" r="6.2"/>
<circle cx="914.8" cy="631.9" r="6.2"/>
<circle cx="920.3" cy="631.9" r="6.2"/>
<circle cx="920.3" cy="631.9" r="6.2"/>
<circle cx="925.8" cy="631.9" r="6.2"/>
<circle cx="932.3" cy="631.9" r="6.2"/>
<circle cx="932.3" cy="631.9" r="6.2"/>
<circle cx="937.8" cy="631.9" r="6.2"/>
<circle cx="937.8" cy="631.9" r="6.2"/>
<circle cx="937.8" cy="631.9" r="6.2"/>
<circle cx="944.3" cy="631.9" r="6.2"/>
<circle cx="944.3" cy="631.9" r="6.2"/>
<circle cx="949.8" cy="631.9" r="6.2"/>
<circle cx="956.3" cy="631.9" r="6.2"/>
<circle cx="956.3" cy="631.9" r="6.2"/>
<circle cx="962.9" cy="631.9" r="6.2"/>
<circle cx="969.4" cy="631.9" r="6.2"/>
<circle cx="969.4" cy="631.9" r="6.2"/>
<circle cx="975.9" cy="631.9" r="6.2"/>
<circle cx="989.0" cy="631.9" r="6.2"/>
<circle cx="989.0" cy="631.9" r="6.2"/>
<circle cx="993.4" cy="631.9" r="6.2"/>
<circle cx="1006.5" cy="631.9" r="6.2"/>
<circle cx="1006.5" cy="631.9" r="6.2"/>
<circle cx="1012.0" cy="631.9" r="6.2"/>
<circle cx="1012.0" cy="631.9" r="6.2"/>
<circle cx="1017.4" cy="631.9" r="6.2"/>
<circle cx="1028.3" cy="631.9" r="6.2"/>
<circle cx="1041.4" cy="631.9" r="6.2"/>
<circle cx="1052.3" cy="631.9" r="6.2"/>
<circle cx="1085.1" cy="631.9" r="6.2"/>
<circle cx="1089.4" cy="631.9" r="6.2"/>
<circle cx="1141.8" cy="631.9" r="6.2"/>
<circle cx="1141.8" cy="631.9" r="6.2"/>
<circle cx="886.0" cy="631.9" r="6.2"/>
<circle cx="889.0" cy="631.9" r="6.2"/>
<circle cx="892.0" cy="631.9" r="6.2"/>
<circle cx="895.0" cy="631.9" r="6.2"/>
<circle cx="898.0" cy="631.9" r="6.2"/>
<circle cx="901.0" cy="631.9" r="6.2"/>
<circle cx="904.0" cy="631.9" r="6.2"/>
<circle cx="907.0" cy="631.9" r="6.2"/>
<circle cx="910.0" cy="631.9" r="6.2"/>
<circle cx="913.0" cy="631.9" r="6.2"/>
<circle cx="916.0" cy="631.9" r="6.2"/>
<circle cx="919.0" cy="631.9" r="6.2"/>
<circle cx="922.0" cy="631.9" r="6.2"/>
<circle cx="925.0" cy="631.9" r="6.2"/>
<circle cx="928.0" cy="631.9" r="6.2"/>
<circle cx="931.0" cy="631.9" r="6.2"/>
<circle cx="934.0" cy="631.9" r="6.2"/>
<circle cx="937.0" cy="631.9" r="6.2"/>
<circle cx="940.0" cy="631.9" r="6.2"/>
<circle cx="943.0" cy="631.9" r="6.2"/>
<circle cx="946.0" cy="631.9" r="6.2"/>
<circle cx="934.0" cy="631.9" r="6.2"/>
<circle cx="934.0" cy="631.9" r="6.2"/>
<circle cx="937.0" cy="631.9" r="6.2"/>
<circle cx="937.0" cy="631.9" r="6.2"/>
<circle cx="1283.0" cy="522.7" r="6.2"/>
<circle cx="1295.0" cy="522.7" r="6.2"/>
<circle cx="1334.3" cy="522.7" r="6.2"/>
<circle cx="1206.6" cy="577.3" r="6.2"/>
<circle cx="1372.5" cy="572.5" r="6.2"/>
</g>
<line x1="160" y1="358.8" x2="826" y2="358.8" stroke="#333" stroke-width="2" stroke-dasharray="3.127 9.38 12.51 9.38"/>
<line x1="843.4" y1="358.8" x2="1511" y2="358.8" stroke="#333" stroke-width="2" stroke-dasharray="3.127 9.38 12.51 9.38"/>
<path d="M189.3,564.4 189.5,562.7 189.6,561.0 189.8,559.2 190.0,557.5 190.2,555.8 190.3,554.1 190.5,552.4 190.7,550.7 190.9,548.9 191.0,547.2 191.2,545.5 191.4,543.8 191.6,542.1 191.8,540.4 192.0,538.7 192.1,536.9 192.3,535.2 192.5,533.5 192.7,531.8 192.9,530.1 193.1,528.4 193.3,526.6 193.5,524.9 193.7,523.2 193.9,521.5 194.1,519.8 194.3,518.1 194.5,516.4 194.7,514.6 194.9,512.9 195.1,511.2 195.3,509.5 195.5,507.8 195.7,506.1 196.0,504.4 196.2,502.6 196.4,500.9 196.6,499.2 196.8,497.5 197.0,495.8 197.2,494.1 197.4,492.4 197.7,490.6 197.9,488.9 198.1,487.2 198.3,485.5 198.5,483.8 198.7,482.1 198.9,480.4 199.2,478.7 199.4,476.9 199.6,475.2 199.8,473.5 200.0,471.8 200.2,470.1 200.5,468.4 200.7,466.7 200.9,464.9 201.1,463.2 201.3,461.5 201.5,459.8 201.7,458.1 202.0,456.4 202.2,454.7 202.4,453.0 202.6,451.2 202.8,449.5 203.0,447.8 203.2,446.1 203.5,444.4 203.7,442.7 203.9,441.0 204.1,439.2 204.3,437.5 204.5,435.8 204.7,434.1 204.9,432.4 205.1,430.7 205.3,429.0 205.5,427.2 205.7,425.5 206.0,423.8 206.2,422.1 206.4,420.4 206.6,418.7 206.8,417.0 206.9,415.2 207.1,413.5 207.3,411.8 207.5,410.1 207.7,408.4 207.9,406.7 208.1,404.9 208.3,403.2 208.5,401.5 208.7,399.8 208.9,398.1 209.0,396.4 209.2,394.6 209.4,392.9 209.6,391.2 209.8,389.5 209.9,387.8 210.1,386.1 210.3,384.3 210.4,382.6 210.6,380.9 210.8,379.2 210.9,377.5 211.1,375.8 211.3,374.0 211.4,372.3 211.6,370.6 211.7,368.9 211.9,367.2 212.0,365.4 212.2,363.7 212.3,362.0 212.5,360.3 212.6,358.6 212.7,356.9 212.9,355.1 213.0,353.4 213.1,351.7 213.3,350.0 213.4,348.2 213.5,346.5 213.6,344.8 213.8,343.1 213.9,341.4 214.0,339.6 214.1,337.9 214.2,336.2 214.3,334.5 214.5,332.8 214.6,331.0 214.7,329.3 214.8,327.6 214.9,325.9 215.0,324.1 215.1,322.4 215.2,320.7 215.3,319.0 215.4,317.3 215.5,315.5 215.6,313.8 215.7,312.1 215.8,310.4 215.9,308.6 216.0,306.9 216.1,305.2 216.2,303.5 216.3,301.7 216.4,300.0 216.5,298.3 216.6,296.6 216.7,294.8 216.8,293.1 216.9,291.4 217.0,289.7 217.1,288.0 217.2,286.2 217.3,284.5 217.4,282.8 217.5,281.1 217.6,279.3 217.6,277.6 217.7,275.9 217.8,274.2 217.9,272.4 218.0,270.7 218.1,269.0 218.3,267.3 218.4,265.5 218.5,263.8 218.6,262.1 218.7,260.4 218.8,258.7 218.9,256.9 219.0,255.2 219.1,253.5 219.2,251.8 219.3,250.0 219.4,248.3 219.6,246.6 219.7,244.9 219.8,243.2 219.9,241.4 220.1,239.7 220.2,238.0 220.3,236.3 220.4,234.5 220.6,232.8 220.7,231.1 220.8,229.4 221.0,227.7 221.1,225.9 221.3,224.2 221.4,222.5 221.6,220.8 221.7,219.1 221.9,217.3 222.0,215.6 222.2,213.9 222.3,212.2 222.5,210.5 222.7,208.7 222.8,207.0 223.0,205.3 223.2,203.6 223.4,201.9 223.6,200.2 223.7,198.4 223.9,196.7 224.1,195.0 224.3,193.3 224.5,191.6 224.7,189.9 224.9,188.1 225.1,186.4 225.4,184.7 225.6,183.0 225.8,181.3 226.0,179.6 226.2,177.9 226.5,176.1 226.7,174.4 226.9,172.7 227.2,171.0 227.4,169.3 227.7,167.6 227.9,165.9 228.2,164.2 228.4,162.4 228.7,160.7 228.9,159.0 229.2,157.3 229.4,155.6 229.7,153.9 230.0,152.2 230.2,150.5 230.5,148.8 230.8,147.1 231.1,145.4 231.3,143.7 231.6,142.0 231.9,140.3 232.2,138.6 232.4,136.9 232.7,135.2 233.0,133.5 233.3,131.8 233.6,130.1 233.9,128.4 234.2,126.7 234.5,125.0 234.8,123.3 235.1,121.6 235.4,119.9 235.6,118.2 235.9,116.5 236.2,114.8 236.5,113.1 236.8,111.4 237.1,109.7 237.4,108.1 237.8,106.4 238.1,104.7 238.4,103.0 238.7,101.3 239.0,99.6 239.4,97.9 239.9,96.2 240.4,94.5 241.1,92.7 241.9,90.9 242.8,89.2 243.7,87.6 244.7,86.4 245.7,85.9 246.7,86.1 247.5,87.0 248.4,88.4 249.1,90.0 249.9,91.7 250.7,93.3 251.4,95.0 252.1,96.6 252.8,98.3 253.5,99.9 254.2,101.6 254.8,103.2 255.5,104.9 256.1,106.5 256.7,108.2 257.3,109.8 257.9,111.4 258.5,113.1 259.1,114.7 259.6,116.4 260.2,118.0 260.7,119.7 261.2,121.3 261.8,123.0 262.3,124.6 262.8,126.3 263.3,127.9 263.8,129.6 264.3,131.2 264.7,132.8 265.2,134.5 265.7,136.1 266.2,137.8 266.6,139.4 267.1,141.1 267.5,142.7 268.0,144.4 268.4,146.0 268.9,147.7 269.3,149.3 269.8,151.0 270.2,152.6 270.7,154.3 271.1,155.9 271.6,157.6 272.0,159.2 272.5,160.9 272.9,162.5 273.4,164.2 273.8,165.8 274.3,167.5 274.7,169.2 275.2,170.8 275.6,172.5 276.1,174.1 276.5,175.8 277.0,177.4 277.4,179.1 277.9,180.8 278.3,182.4 278.8,184.1 279.3,185.7 279.7,187.4 280.2,189.1 280.6,190.7 281.1,192.4 281.5,194.1 282.0,195.7 282.4,197.4 282.9,199.1 283.3,200.7 283.8,202.4 284.2,204.1 284.7,205.7 285.2,207.4 285.6,209.1 286.1,210.7 286.5,212.4 287.0,214.1 287.4,215.7 287.9,217.4 288.3,219.1 288.8,220.7 289.2,222.4 289.7,224.1 290.1,225.7 290.6,227.4 291.0,229.1 291.5,230.8 291.9,232.4 292.4,234.1 292.8,235.8 293.2,237.4 293.7,239.1 294.1,240.8 294.6,242.5 295.0,244.1 295.5,245.8 295.9,247.5 296.3,249.2 296.8,250.8 297.2,252.5 297.7,254.2 298.1,255.9 298.5,257.5 299.0,259.2 299.4,260.9 299.8,262.6 300.3,264.3 300.7,265.9 301.1,267.6 301.6,269.3 302.0,271.0 302.4,272.6 302.8,274.3 303.3,276.0 303.7,277.7 304.1,279.4 304.5,281.0 305.0,282.7 305.4,284.4 305.8,286.1 306.2,287.8 306.6,289.4 307.0,291.1 307.5,292.8 307.9,294.5 308.3,296.1 308.7,297.8 309.1,299.5 309.5,301.2 310.0,302.9 310.4,304.5 310.8,306.2 311.2,307.9 311.6,309.6 312.1,311.3 312.5,312.9 312.9,314.6 313.3,316.3 313.7,318.0 314.2,319.6 314.6,321.3 315.0,323.0 315.4,324.7 315.8,326.3 316.3,328.0 316.7,329.7 317.1,331.4 317.6,333.0 318.0,334.7 318.4,336.4 318.9,338.0 319.3,339.7 319.7,341.4 320.2,343.0 320.6,344.7 321.1,346.4 321.5,348.0 322.0,349.7 322.4,351.4 322.9,353.0 323.3,354.7 323.8,356.4 324.2,358.0 324.7,359.7 325.2,361.3 325.6,363.0 326.1,364.7 326.6,366.3 327.1,368.0 327.5,369.6 328.0,371.3 328.5,372.9 329.0,374.6 329.5,376.2 330.0,377.9 330.5,379.5 331.0,381.2 331.5,382.8 332.0,384.5 332.5,386.1 333.1,387.7 333.6,389.4 334.1,391.0 334.6,392.6 335.2,394.3 335.7,395.9 336.3,397.6 336.8,399.2 337.4,400.8 337.9,402.4 338.5,404.1 339.1,405.7 339.6,407.3 340.2,408.9 340.8,410.6 341.4,412.2 342.0,413.8 342.6,415.4 343.2,417.0 343.8,418.6 344.4,420.3 345.0,421.9 345.6,423.5 346.3,425.1 346.9,426.7 347.6,428.3 348.2,429.9 348.9,431.5 349.5,433.0 350.2,434.6 350.9,436.2 351.6,437.8 352.3,439.4 353.0,440.9 353.7,442.5 354.5,444.1 355.2,445.6 356.0,447.2 356.7,448.7 357.5,450.3 358.3,451.8 359.1,453.3 359.9,454.8 360.7,456.4 361.5,457.9 362.3,459.4 363.2,460.9 364.0,462.4 364.9,463.8 365.8,465.3 366.7,466.8 367.6,468.2 368.6,469.7 369.5,471.1 370.5,472.6 371.4,474.0 372.4,475.4 373.4,476.8 374.4,478.3 375.4,479.7 376.4,481.1 377.4,482.5 378.4,483.9 379.4,485.3 380.4,486.7 381.4,488.2 382.4,489.6 383.4,491.0 384.3,492.5 385.3,493.9 386.2,495.4 387.2,496.8 388.1,498.3 389.0,499.8 389.9,501.2 390.8,502.7 391.7,504.2 392.6,505.7 393.5,507.2 394.4,508.7 395.3,510.2 396.2,511.6 397.1,513.1 398.0,514.6 398.9,516.1 399.8,517.6 400.7,519.0 401.6,520.5 402.5,521.9 403.4,523.4 404.4,524.8 405.3,526.3 406.3,527.7 407.3,529.1 408.3,530.5 409.3,531.9 410.3,533.2 411.3,534.6 412.4,535.9 413.5,537.3 414.6,538.6 415.7,539.8 416.8,541.1 418.0,542.4 419.2,543.6 420.4,544.8 421.6,546.0 422.9,547.2 424.2,548.3 425.5,549.5 426.8,550.6 428.1,551.7 429.5,552.8 430.9,553.9 432.2,554.9 433.6,556.0 435.0,557.0 436.4,558.1 437.9,559.1 439.3,560.1 440.7,561.1 442.2,562.1 443.6,563.1 445.1,564.1 446.5,565.1 448.0,566.0 449.4,567.0 450.9,568.0 452.3,568.9 453.8,569.9 455.2,570.8 456.7,571.8 458.1,572.8 459.5,573.7 461.0,574.7 462.4,575.6 463.8,576.6 465.2,577.5 466.6,578.5 468.0,579.5 469.5,580.4 470.9,581.4 472.3,582.4 473.7,583.3 475.1,584.3 476.4,585.3 477.8,586.3 479.2,587.3 480.6,588.3 482.0,589.3 483.4,590.3 484.8,591.3 486.2,592.4 487.5,593.4 488.9,594.5 490.3,595.5 491.7,596.6 493.0,597.7 494.4,598.7 495.8,599.8 497.2,600.8 498.7,601.8 500.1,602.8 501.6,603.7 503.1,604.5 504.6,605.3 506.2,606.1 507.8,606.7 509.4,607.3 511.1,607.8 512.7,608.2 514.4,608.6 516.2,608.8 517.9,609.0 519.6,609.1 521.4,609.1 523.1,609.1 524.8,609.0 526.6,608.9 528.3,608.8 530.0,608.7 531.8,608.7 533.5,608.6 535.2,608.7 536.9,608.8 538.6,608.9 540.3,609.2 542.0,609.4 543.6,609.8 545.3,610.2 547.0,610.6 548.6,611.1 550.3,611.6 552.0,612.1 553.6,612.7 555.3,613.3 556.9,613.9 558.6,614.6 560.3,615.2 561.9,615.8 563.6,616.3 565.2,616.9 566.9,617.4 568.6,617.8 570.2,618.2 571.9,618.5 573.6,618.8 575.3,618.9 576.9,619.0 578.6,618.9 580.3,618.8 582.0,618.5 583.7,618.2 585.4,617.8 587.1,617.4 588.8,617.0 590.6,616.5 592.3,616.2 594.0,615.8 595.7,615.5 597.4,615.3 599.2,615.1 600.9,615.0 602.6,614.9 604.3,614.9 606.0,615.0 607.7,615.1 609.4,615.3 611.1,615.6 612.7,615.9 614.4,616.3 616.0,616.8 617.7,617.3 619.3,618.0 620.9,618.7 622.5,619.4 624.1,620.2 625.7,621.0 627.2,621.7 628.8,622.5 630.4,623.2 632.0,623.9 633.7,624.4 635.3,624.9 637.0,625.3 638.7,625.6 640.4,625.9 642.1,626.1 643.8,626.3 645.5,626.4 647.2,626.5 648.9,626.7 650.7,626.8 652.4,626.9 654.1,627.0 655.8,627.1 657.6,627.2 659.3,627.3 661.0,627.4 662.7,627.5 664.5,627.6 666.2,627.6 667.9,627.7 669.6,627.7 671.4,627.8 673.1,627.8 674.8,627.8 676.6,627.8 678.3,627.8 680.0,627.7 681.7,627.7 683.5,627.6 685.2,627.5 686.9,627.4 688.7,627.3 690.4,627.2 692.1,627.1 693.8,626.9 695.5,626.7 697.3,626.6 699.0,626.4 700.7,626.2 702.4,626.1 704.1,626.0 705.9,625.9 707.6,625.8 709.3,625.7 711.0,625.7 712.7,625.8 714.4,625.9 716.1,626.0 717.8,626.2 719.5,626.4 721.2,626.6 722.9,626.8 724.7,627.1 726.4,627.4 728.1,627.7 729.8,628.0 731.5,628.3 733.2,628.6 734.9,628.9 736.6,629.2 738.3,629.4 740.0,629.7 741.7,629.9 743.5,630.1 745.2,630.3 746.9,630.4 748.6,630.5 750.4,630.5 752.1,630.6 753.8,630.6 755.5,630.7 757.3,630.7 759.0,630.7 760.7,630.8 762.4,630.9 764.2,630.9 765.9,631.0 767.6,631.1 769.3,631.2 771.1,631.3 772.8,631.5 774.5,631.6 776.2,631.7 778.0,631.8 779.7,631.9 781.4,632.0 783.1,632.1 784.8,632.2 786.6,632.3 788.3,632.4 790.0,632.5 791.7,632.5 793.5,632.6 795.2,632.6" fill="none" stroke="#000" stroke-width="3" stroke-linejoin="round"/>
<path d="M873.7,537.5 873.9,535.8 874.2,534.2 874.4,532.5 874.6,530.9 874.9,529.2 875.1,527.5 875.4,525.9 875.6,524.2 875.8,522.6 876.1,520.9 876.3,519.2 876.5,517.6 876.8,515.9 877.0,514.3 877.2,512.6 877.5,510.9 877.7,509.3 877.9,507.6 878.2,506.0 878.4,504.3 878.6,502.6 878.9,501.0 879.1,499.3 879.3,497.7 879.5,496.0 879.8,494.4 880.0,492.7 880.2,491.0 880.4,489.4 880.7,487.7 880.9,486.1 881.1,484.4 881.3,482.7 881.5,481.1 881.8,479.4 882.0,477.8 882.2,476.1 882.4,474.4 882.6,472.8 882.9,471.1 883.1,469.5 883.3,467.8 883.5,466.1 883.7,464.5 883.9,462.8 884.1,461.2 884.4,459.5 884.6,457.8 884.8,456.2 885.0,454.5 885.2,452.9 885.4,451.2 885.6,449.5 885.8,447.9 886.0,446.2 886.2,444.6 886.4,442.9 886.6,441.2 886.8,439.6 887.0,437.9 887.2,436.3 887.5,434.6 887.7,432.9 887.9,431.3 888.1,429.6 888.3,428.0 888.5,426.3 888.7,424.6 888.8,423.0 889.0,421.3 889.2,419.7 889.4,418.0 889.6,416.3 889.8,414.7 890.0,413.0 890.2,411.3 890.4,409.7 890.6,408.0 890.8,406.4 891.0,404.7 891.2,403.0 891.4,401.4 891.5,399.7 891.7,398.1 891.9,396.4 892.1,394.7 892.3,393.1 892.5,391.4 892.7,389.7 892.8,388.1 893.0,386.4 893.2,384.8 893.4,383.1 893.6,381.4 893.8,379.8 893.9,378.1 894.1,376.4 894.3,374.8 894.5,373.1 894.7,371.5 894.8,369.8 895.0,368.1 895.2,366.5 895.4,364.8 895.5,363.1 895.7,361.5 895.9,359.8 896.1,358.1 896.2,356.5 896.4,354.8 896.6,353.2 896.7,351.5 896.9,349.8 897.1,348.2 897.2,346.5 897.4,344.8 897.6,343.2 897.7,341.5 897.9,339.8 898.1,338.2 898.2,336.5 898.4,334.8 898.6,333.2 898.7,331.5 898.9,329.8 899.1,328.2 899.2,326.5 899.4,324.8 899.5,323.2 899.7,321.5 899.9,319.8 900.0,318.2 900.2,316.5 900.3,314.8 900.5,313.2 900.6,311.5 900.8,309.8 900.9,308.2 901.1,306.5 901.3,304.8 901.4,303.2 901.6,301.5 901.7,299.8 901.9,298.1 902.0,296.5 902.2,294.8 902.3,293.1 902.5,291.5 902.6,289.8 902.8,288.1 902.9,286.5 903.0,284.8 903.2,283.1 903.3,281.4 903.5,279.8 903.6,278.1 903.8,276.4 903.9,274.8 904.1,273.1 904.2,271.4 904.4,269.7 904.5,268.1 904.6,266.4 904.8,264.7 904.9,263.1 905.1,261.4 905.2,259.7 905.4,258.0 905.5,256.4 905.7,254.7 905.8,253.0 906.0,251.4 906.1,249.7 906.3,248.0 906.4,246.3 906.6,244.7 906.7,243.0 906.9,241.3 907.0,239.7 907.2,238.0 907.3,236.3 907.5,234.6 907.6,233.0 907.8,231.3 907.9,229.6 908.1,228.0 908.3,226.3 908.4,224.6 908.6,223.0 908.7,221.3 908.9,219.6 909.1,218.0 909.2,216.3 909.4,214.6 909.6,213.0 909.8,211.3 909.9,209.6 910.1,208.0 910.3,206.3 910.5,204.6 910.6,203.0 910.8,201.3 911.0,199.6 911.2,198.0 911.4,196.3 911.6,194.7 911.8,193.0 912.0,191.3 912.2,189.7 912.4,188.0 912.6,186.4 912.8,184.7 913.0,183.0 913.2,181.4 913.4,179.7 913.6,178.1 913.8,176.4 914.0,174.7 914.2,173.1 914.5,171.4 914.7,169.8 914.9,168.1 915.1,166.5 915.4,164.8 915.6,163.2 915.8,161.5 916.1,159.9 916.3,158.2 916.6,156.6 916.8,154.9 917.1,153.3 917.3,151.6 917.6,150.0 917.8,148.3 918.1,146.7 918.4,145.0 918.6,143.4 918.9,141.8 919.2,140.1 919.5,138.5 919.8,136.8 920.1,135.2 920.3,133.6 920.6,131.9 921.0,130.3 921.3,128.6 921.6,127.0 921.9,125.4 922.2,123.7 922.6,122.1 922.9,120.5 923.3,118.8 923.7,117.2 924.1,115.6 924.5,113.9 924.9,112.3 925.3,110.7 925.8,109.1 926.2,107.4 926.7,105.8 927.2,104.2 927.7,102.5 928.2,100.9 928.8,99.3 929.3,97.7 929.9,96.0 930.5,94.4 931.1,92.8 931.8,91.2 932.6,89.7 933.6,88.4 934.7,87.2 936.0,86.3 937.4,85.8 938.8,86.0 940.2,86.8 941.5,87.9 942.6,89.2 943.6,90.6 944.4,92.1 945.1,93.6 945.7,95.2 946.3,96.7 946.8,98.4 947.2,100.0 947.7,101.6 948.2,103.2 948.7,104.8 949.2,106.4 949.7,108.0 950.2,109.7 950.6,111.3 951.1,112.9 951.6,114.5 952.1,116.1 952.6,117.7 953.1,119.3 953.6,120.9 954.1,122.5 954.5,124.2 955.0,125.8 955.5,127.4 956.0,129.0 956.5,130.6 957.0,132.2 957.5,133.8 958.0,135.4 958.5,137.0 959.0,138.6 959.5,140.2 959.9,141.8 960.4,143.4 960.9,145.0 961.4,146.6 961.9,148.2 962.4,149.8 962.9,151.4 963.4,153.0 963.9,154.6 964.4,156.2 964.9,157.8 965.4,159.4 965.9,161.0 966.4,162.6 966.9,164.2 967.4,165.8 967.8,167.4 968.3,169.0 968.8,170.6 969.3,172.2 969.8,173.8 970.3,175.4 970.8,177.0 971.3,178.6 971.8,180.2 972.3,181.8 972.8,183.4 973.3,185.0 973.8,186.6 974.3,188.2 974.8,189.8 975.3,191.4 975.8,193.0 976.3,194.6 976.8,196.2 977.3,197.8 977.8,199.4 978.3,201.0 978.8,202.5 979.3,204.1 979.8,205.7 980.3,207.3 980.8,208.9 981.3,210.5 981.8,212.1 982.3,213.7 982.8,215.3 983.3,216.9 983.8,218.5 984.3,220.1 984.8,221.6 985.3,223.2 985.8,224.8 986.3,226.4 986.8,228.0 987.3,229.6 987.8,231.2 988.3,232.8 988.8,234.4 989.3,236.0 989.8,237.6 990.3,239.1 990.8,240.7 991.3,242.3 991.8,243.9 992.3,245.5 992.7,247.1 993.2,248.7 993.7,250.3 994.2,251.9 994.7,253.5 995.2,255.1 995.7,256.7 996.2,258.3 996.7,259.9 997.1,261.4 997.6,263.0 998.1,264.6 998.6,266.2 999.1,267.8 999.5,269.4 1000.0,271.0 1000.5,272.6 1000.9,274.2 1001.4,275.8 1001.9,277.4 1002.3,279.0 1002.8,280.6 1003.3,282.2 1003.7,283.8 1004.2,285.5 1004.6,287.1 1005.1,288.7 1005.5,290.3 1006.0,291.9 1006.4,293.5 1006.8,295.1 1007.3,296.7 1007.7,298.3 1008.1,299.9 1008.6,301.6 1009.0,303.2 1009.4,304.8 1009.8,306.4 1010.3,308.0 1010.7,309.7 1011.1,311.3 1011.5,312.9 1011.9,314.5 1012.3,316.2 1012.7,317.8 1013.1,319.4 1013.5,321.1 1013.8,322.7 1014.2,324.3 1014.6,326.0 1015.0,327.6 1015.4,329.2 1015.7,330.9 1016.1,332.5 1016.4,334.2 1016.8,335.8 1017.1,337.4 1017.5,339.1 1017.8,340.7 1018.2,342.4 1018.5,344.1 1018.8,345.7 1019.2,347.4 1019.5,349.0 1019.8,350.7 1020.1,352.3 1020.4,354.0 1020.7,355.7 1021.0,357.3 1021.3,359.0 1021.7,360.7 1022.0,362.3 1022.3,364.0 1022.6,365.7 1022.9,367.3 1023.2,369.0 1023.5,370.6 1023.9,372.3 1024.2,373.9 1024.5,375.6 1024.9,377.2 1025.2,378.9 1025.6,380.5 1026.0,382.2 1026.3,383.8 1026.7,385.5 1027.1,387.1 1027.5,388.7 1027.9,390.3 1028.3,392.0 1028.8,393.6 1029.2,395.2 1029.7,396.8 1030.1,398.4 1030.6,400.0 1031.1,401.6 1031.6,403.1 1032.2,404.7 1032.7,406.3 1033.3,407.8 1033.8,409.4 1034.4,410.9 1035.1,412.5 1035.7,414.0 1036.3,415.5 1037.0,417.1 1037.7,418.6 1038.4,420.1 1039.2,421.6 1039.9,423.0 1040.7,424.5 1041.5,426.0 1042.3,427.4 1043.2,428.9 1044.0,430.3 1044.9,431.7 1045.8,433.1 1046.8,434.5 1047.7,435.8 1048.7,437.2 1049.7,438.5 1050.7,439.8 1051.8,441.1 1052.9,442.4 1053.9,443.6 1055.1,444.8 1056.2,446.1 1057.4,447.2 1058.6,448.4 1059.8,449.5 1061.0,450.6 1062.3,451.7 1063.6,452.8 1064.9,453.8 1066.2,454.8 1067.6,455.8 1069.0,456.7 1070.4,457.6 1071.8,458.5 1073.3,459.4 1074.8,460.2 1076.3,461.0 1077.8,461.7 1079.3,462.5 1080.9,463.2 1082.5,463.9 1084.0,464.6 1085.6,465.3 1087.2,466.0 1088.7,466.7 1090.3,467.4 1091.8,468.1 1093.3,468.9 1094.9,469.7 1096.3,470.5 1097.8,471.3 1099.2,472.1 1100.6,473.1 1101.9,474.0 1103.2,475.0 1104.5,476.0 1105.7,477.1 1106.9,478.3 1108.0,479.5 1109.1,480.7 1110.2,481.9 1111.2,483.2 1112.3,484.5 1113.2,485.8 1114.2,487.2 1115.2,488.6 1116.1,490.0 1117.0,491.4 1117.9,492.9 1118.8,494.3 1119.7,495.8 1120.5,497.3 1121.4,498.7 1122.2,500.2 1123.1,501.7 1123.9,503.2 1124.7,504.6 1125.6,506.1 1126.4,507.6 1127.2,509.1 1128.0,510.6 1128.9,512.1 1129.7,513.5 1130.5,515.0 1131.3,516.5 1132.2,518.0 1133.0,519.4 1133.8,520.9 1134.6,522.4 1135.5,523.8 1136.3,525.3 1137.1,526.8 1138.0,528.2 1138.8,529.6 1139.7,531.1 1140.5,532.5 1141.4,533.9 1142.2,535.3 1143.1,536.8 1144.0,538.2 1144.9,539.5 1145.8,540.9 1146.7,542.3 1147.6,543.7 1148.5,545.0 1149.4,546.4 1150.4,547.7 1151.3,549.0 1152.3,550.4 1153.3,551.7 1154.3,553.0 1155.3,554.3 1156.3,555.6 1157.3,556.8 1158.3,558.1 1159.3,559.4 1160.4,560.7 1161.4,562.0 1162.5,563.3 1163.5,564.5 1164.6,565.8 1165.7,567.1 1166.8,568.4 1167.9,569.7 1169.0,571.0 1170.1,572.4 1171.2,573.7 1172.3,575.0 1173.5,576.4 1174.6,577.7 1175.8,579.1 1176.9,580.5 1178.1,581.9 1179.2,583.2 1180.4,584.5 1181.7,585.8 1182.9,587.0 1184.2,588.1 1185.5,589.1 1186.9,590.0 1188.3,590.9 1189.7,591.6 1191.1,592.3 1192.6,592.9 1194.1,593.4 1195.6,593.8 1197.2,594.2 1198.8,594.6 1200.4,594.8 1202.0,595.1 1203.6,595.3 1205.2,595.4 1206.9,595.5 1208.6,595.6 1210.3,595.7 1211.9,595.7 1213.6,595.8 1215.3,595.8 1217.0,595.8 1218.7,595.9 1220.5,595.9 1222.2,596.0 1223.9,596.0 1225.6,596.1 1227.2,596.2 1228.9,596.3 1230.6,596.5 1232.3,596.7 1233.9,596.9 1235.6,597.1 1237.2,597.4 1238.9,597.7 1240.5,598.0 1242.2,598.3 1243.8,598.6 1245.4,598.9 1247.1,599.3 1248.7,599.6 1250.3,600.0 1251.9,600.4 1253.5,600.7 1255.2,601.1 1256.8,601.5 1258.4,601.9 1260.0,602.3 1261.6,602.7 1263.3,603.0 1264.9,603.4 1266.5,603.8 1268.1,604.2 1269.8,604.5 1271.4,604.9 1273.1,605.2 1274.7,605.5 1276.3,605.8 1278.0,606.1 1279.6,606.5 1281.3,606.8 1282.9,607.1 1284.6,607.4 1286.2,607.7 1287.9,608.1 1289.5,608.4 1291.2,608.8 1292.8,609.1 1294.4,609.5 1296.1,609.9 1297.7,610.4 1299.3,610.8 1300.9,611.3 1302.5,611.8 1304.1,612.4 1305.7,612.9 1307.3,613.5 1308.9,614.0 1310.5,614.6 1312.1,615.1 1313.6,615.6 1315.2,616.1 1316.8,616.6 1318.4,617.1 1320.1,617.5 1321.7,617.9 1323.3,618.2 1324.9,618.6 1326.6,618.9 1328.2,619.2 1329.9,619.4 1331.5,619.7 1333.2,619.9 1334.8,620.1 1336.5,620.3 1338.2,620.5 1339.8,620.6 1341.5,620.8 1343.2,620.9 1344.8,621.1 1346.5,621.2 1348.2,621.4 1349.9,621.5 1351.5,621.7 1353.2,621.8 1354.9,622.0 1356.5,622.2 1358.2,622.3 1359.9,622.5 1361.5,622.7 1363.2,622.9 1364.9,623.1 1366.5,623.3 1368.2,623.5 1369.8,623.7 1371.5,623.9 1373.1,624.1 1374.8,624.4 1376.5,624.6 1378.1,624.8 1379.8,625.0 1381.4,625.1 1383.1,625.3 1384.8,625.5 1386.4,625.7 1388.1,625.9 1389.8,626.0 1391.4,626.2 1393.1,626.4 1394.8,626.5 1396.4,626.7 1398.1,626.8 1399.8,627.0 1401.4,627.1 1403.1,627.2 1404.8,627.3 1406.4,627.4 1408.1,627.5 1409.8,627.6 1411.4,627.7 1413.1,627.8 1414.8,627.9 1416.4,627.9 1418.1,628.0 1419.8,628.0 1421.5,628.1 1423.1,628.1 1424.8,628.1 1426.5,628.1 1428.1,628.1 1429.8,628.1 1431.5,628.1 1433.2,628.1 1434.8,628.0 1436.5,628.0 1438.2,627.9 1439.9,627.8 1441.5,627.7 1443.2,627.6 1444.9,627.5 1446.6,627.4 1448.2,627.2 1449.9,627.1 1451.6,626.9 1453.2,626.8 1454.9,626.6 1456.6,626.5 1458.3,626.3 1459.9,626.2 1461.6,626.1 1463.3,626.0 1465.0,625.9 1466.6,625.9 1468.3,625.8 1470.0,625.8 1471.6,625.8 1473.3,625.9 1475.0,625.9 1476.7,626.1 1478.3,626.2 1480.0,626.4" fill="none" stroke="#000" stroke-width="3" stroke-linejoin="round"/>
<line x1="189.3" y1="108.4" x2="757.6" y2="255.1" stroke="#1f42f3" stroke-width="6.3"/>
<line x1="880.3" y1="137.8" x2="1481.2" y2="268.6" stroke="#1f42f3" stroke-width="6.3"/>
<line x1="202" y1="572.5" x2="704" y2="433" stroke="#4f6ff0" stroke-width="5.6" stroke-dasharray="13.38 13.38"/>
<line x1="880.3" y1="571" x2="1457" y2="398" stroke="#4f6ff0" stroke-width="5.6" stroke-dasharray="13.38 13.38"/>
<g stroke="#000" stroke-width="2.5" fill="none" stroke-linecap="round" stroke-linejoin="round">
<path d="M158.7,58.2 L158.7,659.8 L825.2,659.8"/>
<line x1="843.9" y1="659.8" x2="1510.6" y2="659.8"/>
<line x1="151.3" y1="85.0" x2="158.6" y2="85.0"/>
<line x1="151.3" y1="221.9" x2="158.6" y2="221.9"/>
<line x1="151.3" y1="358.8" x2="158.6" y2="358.8"/>
<line x1="151.3" y1="495.6" x2="158.6" y2="495.6"/>
<line x1="151.3" y1="632.5" x2="158.6" y2="632.5"/>
<line x1="175.9" y1="659.9" x2="175.9" y2="667.3"/>
<line x1="335.8" y1="659.9" x2="335.8" y2="667.3"/>
<line x1="495.6" y1="659.9" x2="495.6" y2="667.3"/>
<line x1="655.5" y1="659.9" x2="655.5" y2="667.3"/>
<line x1="815.4" y1="659.9" x2="815.4" y2="667.3"/>
<line x1="861.3" y1="659.9" x2="861.3" y2="667.3"/>
<line x1="1021.2" y1="659.9" x2="1021.2" y2="667.3"/>
<line x1="1181.0" y1="659.9" x2="1181.0" y2="667.3"/>
<line x1="1340.9" y1="659.9" x2="1340.9" y2="667.3"/>
<line x1="1500.8" y1="659.9" x2="1500.8" y2="667.3"/>
</g>
<g font-size="34.8" fill="#333">
<text x="143" y="97.8" text-anchor="end">train</text>
<text x="143" y="234.7" text-anchor="end">75</text>
<text x="143" y="371.6" text-anchor="end">50</text>
<text x="143" y="508.4" text-anchor="end">25</text>
<text x="143" y="645.3" text-anchor="end">plane</text>
<text x="175.6" y="701.2" text-anchor="middle">0</text>
<text x="335.5" y="701.2" text-anchor="middle">25</text>
<text x="495.4" y="701.2" text-anchor="middle">50</text>
<text x="655.2" y="701.2" text-anchor="middle">75</text>
<text x="815.1" y="701.2" text-anchor="middle">100</text>
<text x="861.2" y="701.2" text-anchor="middle">0</text>
<text x="1021.1" y="701.2" text-anchor="middle">25</text>
<text x="1181.0" y="701.2" text-anchor="middle">50</text>
<text x="1340.8" y="701.2" text-anchor="middle">75</text>
<text x="1500.7" y="701.2" text-anchor="middle">100</text>
</g>
<text x="834" y="744.3" font-size="37.7" font-weight="bold" fill="#000" text-anchor="middle">Decision Time [s]</text>
<text transform="translate(42.5,359) rotate(-90)" font-size="38.1" font-weight="bold" fill="#000" text-anchor="middle">Preference</text>
<rect x="578.1" y="467.7" width="291.8" height="114.5" fill="#fff" stroke="#555" stroke-width="1.4"/>
<line x1="590" y1="494.7" x2="641.1" y2="494.7" stroke="#1f42f3" stroke-width="7"/>
<line x1="590" y1="552.5" x2="641.1" y2="552.5" stroke="#4f6ff0" stroke-width="7" stroke-dasharray="9.8 10.9" opacity="0.75"/>
<g font-size="31.4" fill="#000">
<text x="648" y="508">train travelers</text>
<text x="651" y="563">plane travelers</text>
</g>
</svg></body></html>
